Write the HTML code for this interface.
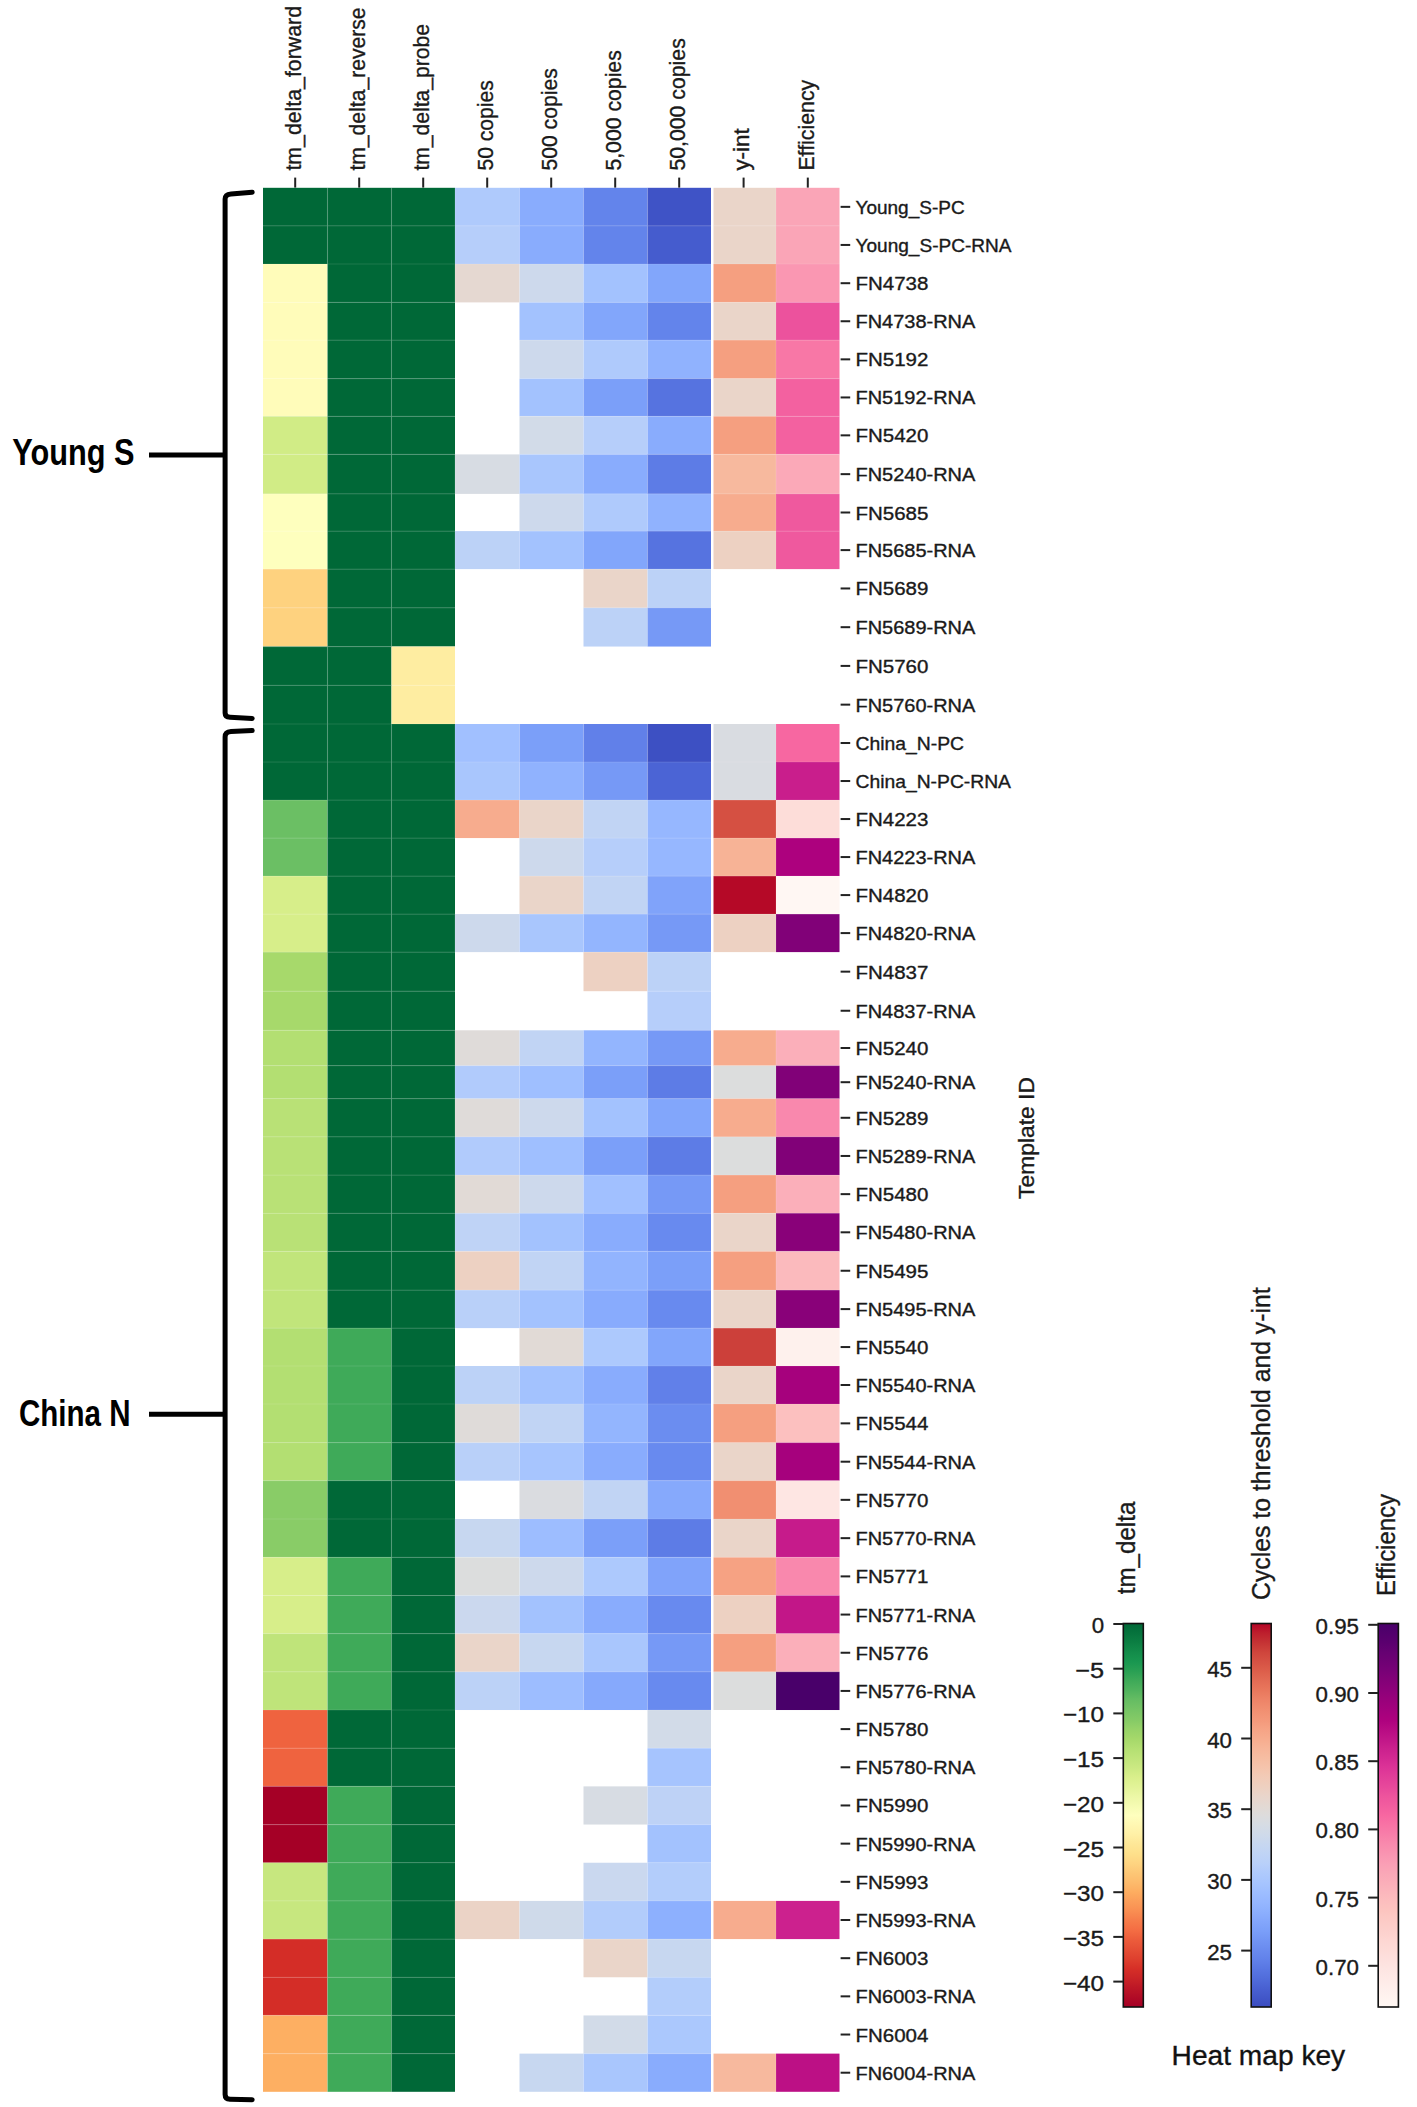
<!DOCTYPE html>
<html><head><meta charset="utf-8"><title>Heat map</title>
<style>html,body{margin:0;padding:0;background:#fff;}body{width:1417px;height:2107px;position:relative;overflow:hidden;font-family:"Liberation Sans",sans-serif;}</style>
</head><body>
<svg width="1417" height="2107" viewBox="0 0 1417 2107" style="position:absolute;left:0;top:0">
<rect x="0" y="0" width="1417" height="2107" fill="#ffffff"/>
<rect x="263.00" y="187.80" width="64.50" height="38.10" fill="#006837"/>
<rect x="327.50" y="187.80" width="64.00" height="38.10" fill="#006837"/>
<rect x="391.50" y="187.80" width="63.50" height="38.10" fill="#006837"/>
<rect x="455.00" y="187.80" width="64.50" height="38.10" fill="#afcafc"/>
<rect x="519.50" y="187.80" width="64.00" height="38.10" fill="#89acfd"/>
<rect x="583.50" y="187.80" width="64.00" height="38.10" fill="#6384eb"/>
<rect x="647.50" y="187.80" width="63.50" height="38.10" fill="#3f53c6"/>
<rect x="713.50" y="187.80" width="62.50" height="38.10" fill="#ead5c9"/>
<rect x="776.00" y="187.80" width="63.50" height="38.10" fill="#faa5b7"/>
<rect x="263.00" y="225.90" width="64.50" height="38.10" fill="#006837"/>
<rect x="327.50" y="225.90" width="64.00" height="38.10" fill="#006837"/>
<rect x="391.50" y="225.90" width="63.50" height="38.10" fill="#006837"/>
<rect x="455.00" y="225.90" width="64.50" height="38.10" fill="#b6cefa"/>
<rect x="519.50" y="225.90" width="64.00" height="38.10" fill="#89acfd"/>
<rect x="583.50" y="225.90" width="64.00" height="38.10" fill="#6384eb"/>
<rect x="647.50" y="225.90" width="63.50" height="38.10" fill="#455cce"/>
<rect x="713.50" y="225.90" width="62.50" height="38.10" fill="#ead5c9"/>
<rect x="776.00" y="225.90" width="63.50" height="38.10" fill="#faa5b7"/>
<rect x="263.00" y="264.00" width="64.50" height="38.40" fill="#fffcba"/>
<rect x="327.50" y="264.00" width="64.00" height="38.40" fill="#006837"/>
<rect x="391.50" y="264.00" width="63.50" height="38.40" fill="#006837"/>
<rect x="455.00" y="264.00" width="64.50" height="38.40" fill="#e5d8d1"/>
<rect x="519.50" y="264.00" width="64.00" height="38.40" fill="#cdd9ec"/>
<rect x="583.50" y="264.00" width="64.00" height="38.40" fill="#a3c2fe"/>
<rect x="647.50" y="264.00" width="63.50" height="38.40" fill="#82a6fb"/>
<rect x="713.50" y="264.00" width="62.50" height="38.40" fill="#f59f80"/>
<rect x="776.00" y="264.00" width="63.50" height="38.40" fill="#fa97b2"/>
<rect x="263.00" y="302.40" width="64.50" height="37.70" fill="#fffcba"/>
<rect x="327.50" y="302.40" width="64.00" height="37.70" fill="#006837"/>
<rect x="391.50" y="302.40" width="63.50" height="37.70" fill="#006837"/>
<rect x="519.50" y="302.40" width="64.00" height="37.70" fill="#a3c2fe"/>
<rect x="583.50" y="302.40" width="64.00" height="37.70" fill="#82a6fb"/>
<rect x="647.50" y="302.40" width="63.50" height="37.70" fill="#6384eb"/>
<rect x="713.50" y="302.40" width="62.50" height="37.70" fill="#ead5c9"/>
<rect x="776.00" y="302.40" width="63.50" height="37.70" fill="#ec529d"/>
<rect x="263.00" y="340.10" width="64.50" height="38.50" fill="#fffcba"/>
<rect x="327.50" y="340.10" width="64.00" height="38.50" fill="#006837"/>
<rect x="391.50" y="340.10" width="63.50" height="38.50" fill="#006837"/>
<rect x="519.50" y="340.10" width="64.00" height="38.50" fill="#cdd9ec"/>
<rect x="583.50" y="340.10" width="64.00" height="38.50" fill="#afcafc"/>
<rect x="647.50" y="340.10" width="63.50" height="38.50" fill="#90b2fe"/>
<rect x="713.50" y="340.10" width="62.50" height="38.50" fill="#f59f80"/>
<rect x="776.00" y="340.10" width="63.50" height="38.50" fill="#f877a6"/>
<rect x="263.00" y="378.60" width="64.50" height="37.70" fill="#fffcba"/>
<rect x="327.50" y="378.60" width="64.00" height="37.70" fill="#006837"/>
<rect x="391.50" y="378.60" width="63.50" height="37.70" fill="#006837"/>
<rect x="519.50" y="378.60" width="64.00" height="37.70" fill="#a3c2fe"/>
<rect x="583.50" y="378.60" width="64.00" height="37.70" fill="#7b9ff9"/>
<rect x="647.50" y="378.60" width="63.50" height="37.70" fill="#5673e0"/>
<rect x="713.50" y="378.60" width="62.50" height="37.70" fill="#ead5c9"/>
<rect x="776.00" y="378.60" width="63.50" height="37.70" fill="#f361a0"/>
<rect x="263.00" y="416.30" width="64.50" height="38.10" fill="#d1ec86"/>
<rect x="327.50" y="416.30" width="64.00" height="38.10" fill="#006837"/>
<rect x="391.50" y="416.30" width="63.50" height="38.10" fill="#006837"/>
<rect x="519.50" y="416.30" width="64.00" height="38.10" fill="#d2dbe8"/>
<rect x="583.50" y="416.30" width="64.00" height="38.10" fill="#b6cefa"/>
<rect x="647.50" y="416.30" width="63.50" height="38.10" fill="#89acfd"/>
<rect x="713.50" y="416.30" width="62.50" height="38.10" fill="#f59f80"/>
<rect x="776.00" y="416.30" width="63.50" height="38.10" fill="#f361a0"/>
<rect x="263.00" y="454.40" width="64.50" height="39.50" fill="#d1ec86"/>
<rect x="327.50" y="454.40" width="64.00" height="39.50" fill="#006837"/>
<rect x="391.50" y="454.40" width="63.50" height="39.50" fill="#006837"/>
<rect x="455.00" y="454.40" width="64.50" height="39.50" fill="#d7dce3"/>
<rect x="519.50" y="454.40" width="64.00" height="39.50" fill="#a9c6fd"/>
<rect x="583.50" y="454.40" width="64.00" height="39.50" fill="#89acfd"/>
<rect x="647.50" y="454.40" width="63.50" height="39.50" fill="#5d7ce6"/>
<rect x="713.50" y="454.40" width="62.50" height="39.50" fill="#f7b99e"/>
<rect x="776.00" y="454.40" width="63.50" height="39.50" fill="#fba9b8"/>
<rect x="263.00" y="493.90" width="64.50" height="37.20" fill="#feffbe"/>
<rect x="327.50" y="493.90" width="64.00" height="37.20" fill="#006837"/>
<rect x="391.50" y="493.90" width="63.50" height="37.20" fill="#006837"/>
<rect x="519.50" y="493.90" width="64.00" height="37.20" fill="#cdd9ec"/>
<rect x="583.50" y="493.90" width="64.00" height="37.20" fill="#afcafc"/>
<rect x="647.50" y="493.90" width="63.50" height="37.20" fill="#90b2fe"/>
<rect x="713.50" y="493.90" width="62.50" height="37.20" fill="#f7ac8e"/>
<rect x="776.00" y="493.90" width="63.50" height="37.20" fill="#ef599e"/>
<rect x="263.00" y="531.10" width="64.50" height="38.00" fill="#feffbe"/>
<rect x="327.50" y="531.10" width="64.00" height="38.00" fill="#006837"/>
<rect x="391.50" y="531.10" width="63.50" height="38.00" fill="#006837"/>
<rect x="455.00" y="531.10" width="64.50" height="38.00" fill="#bcd2f7"/>
<rect x="519.50" y="531.10" width="64.00" height="38.00" fill="#a3c2fe"/>
<rect x="583.50" y="531.10" width="64.00" height="38.00" fill="#82a6fb"/>
<rect x="647.50" y="531.10" width="63.50" height="38.00" fill="#5673e0"/>
<rect x="713.50" y="531.10" width="62.50" height="38.00" fill="#edd1c2"/>
<rect x="776.00" y="531.10" width="63.50" height="38.00" fill="#ef599e"/>
<rect x="263.00" y="569.10" width="64.50" height="38.73" fill="#fed27f"/>
<rect x="327.50" y="569.10" width="64.00" height="38.73" fill="#006837"/>
<rect x="391.50" y="569.10" width="63.50" height="38.73" fill="#006837"/>
<rect x="583.50" y="569.10" width="64.00" height="38.73" fill="#ead5c9"/>
<rect x="647.50" y="569.10" width="63.50" height="38.73" fill="#bcd2f7"/>
<rect x="263.00" y="607.83" width="64.50" height="38.72" fill="#fed27f"/>
<rect x="327.50" y="607.83" width="64.00" height="38.72" fill="#006837"/>
<rect x="391.50" y="607.83" width="63.50" height="38.72" fill="#006837"/>
<rect x="583.50" y="607.83" width="64.00" height="38.72" fill="#bcd2f7"/>
<rect x="647.50" y="607.83" width="63.50" height="38.72" fill="#7699f6"/>
<rect x="263.00" y="646.55" width="64.50" height="38.73" fill="#006837"/>
<rect x="327.50" y="646.55" width="64.00" height="38.73" fill="#006837"/>
<rect x="391.50" y="646.55" width="63.50" height="38.73" fill="#feeda1"/>
<rect x="263.00" y="685.27" width="64.50" height="38.73" fill="#006837"/>
<rect x="327.50" y="685.27" width="64.00" height="38.73" fill="#006837"/>
<rect x="391.50" y="685.27" width="63.50" height="38.73" fill="#feeda1"/>
<rect x="263.00" y="724.00" width="64.50" height="38.02" fill="#006837"/>
<rect x="327.50" y="724.00" width="64.00" height="38.02" fill="#006837"/>
<rect x="391.50" y="724.00" width="63.50" height="38.02" fill="#006837"/>
<rect x="455.00" y="724.00" width="64.50" height="38.02" fill="#a1c0ff"/>
<rect x="519.50" y="724.00" width="64.00" height="38.02" fill="#7b9ff9"/>
<rect x="583.50" y="724.00" width="64.00" height="38.02" fill="#6180e9"/>
<rect x="647.50" y="724.00" width="63.50" height="38.02" fill="#3d50c3"/>
<rect x="713.50" y="724.00" width="62.50" height="38.02" fill="#d9dce1"/>
<rect x="776.00" y="724.00" width="63.50" height="38.02" fill="#f767a1"/>
<rect x="263.00" y="762.02" width="64.50" height="38.02" fill="#006837"/>
<rect x="327.50" y="762.02" width="64.00" height="38.02" fill="#006837"/>
<rect x="391.50" y="762.02" width="63.50" height="38.02" fill="#006837"/>
<rect x="455.00" y="762.02" width="64.50" height="38.02" fill="#a9c6fd"/>
<rect x="519.50" y="762.02" width="64.00" height="38.02" fill="#90b2fe"/>
<rect x="583.50" y="762.02" width="64.00" height="38.02" fill="#7699f6"/>
<rect x="647.50" y="762.02" width="63.50" height="38.02" fill="#4b64d5"/>
<rect x="713.50" y="762.02" width="62.50" height="38.02" fill="#d9dce1"/>
<rect x="776.00" y="762.02" width="63.50" height="38.02" fill="#c91e8c"/>
<rect x="263.00" y="800.03" width="64.50" height="38.02" fill="#6bbf64"/>
<rect x="327.50" y="800.03" width="64.00" height="38.02" fill="#006837"/>
<rect x="391.50" y="800.03" width="63.50" height="38.02" fill="#006837"/>
<rect x="455.00" y="800.03" width="64.50" height="38.02" fill="#f7ac8e"/>
<rect x="519.50" y="800.03" width="64.00" height="38.02" fill="#ead5c9"/>
<rect x="583.50" y="800.03" width="64.00" height="38.02" fill="#c1d4f4"/>
<rect x="647.50" y="800.03" width="63.50" height="38.02" fill="#96b7ff"/>
<rect x="713.50" y="800.03" width="62.50" height="38.02" fill="#d55042"/>
<rect x="776.00" y="800.03" width="63.50" height="38.02" fill="#fdddd9"/>
<rect x="263.00" y="838.05" width="64.50" height="38.02" fill="#6bbf64"/>
<rect x="327.50" y="838.05" width="64.00" height="38.02" fill="#006837"/>
<rect x="391.50" y="838.05" width="63.50" height="38.02" fill="#006837"/>
<rect x="519.50" y="838.05" width="64.00" height="38.02" fill="#cdd9ec"/>
<rect x="583.50" y="838.05" width="64.00" height="38.02" fill="#b6cefa"/>
<rect x="647.50" y="838.05" width="63.50" height="38.02" fill="#96b7ff"/>
<rect x="713.50" y="838.05" width="62.50" height="38.02" fill="#f7b396"/>
<rect x="776.00" y="838.05" width="63.50" height="38.02" fill="#ad017e"/>
<rect x="263.00" y="876.07" width="64.50" height="38.02" fill="#d7ee8a"/>
<rect x="327.50" y="876.07" width="64.00" height="38.02" fill="#006837"/>
<rect x="391.50" y="876.07" width="63.50" height="38.02" fill="#006837"/>
<rect x="519.50" y="876.07" width="64.00" height="38.02" fill="#ead5c9"/>
<rect x="583.50" y="876.07" width="64.00" height="38.02" fill="#c1d4f4"/>
<rect x="647.50" y="876.07" width="63.50" height="38.02" fill="#80a3fa"/>
<rect x="713.50" y="876.07" width="62.50" height="38.02" fill="#b50927"/>
<rect x="776.00" y="876.07" width="63.50" height="38.02" fill="#fff7f3"/>
<rect x="263.00" y="914.08" width="64.50" height="38.02" fill="#d7ee8a"/>
<rect x="327.50" y="914.08" width="64.00" height="38.02" fill="#006837"/>
<rect x="391.50" y="914.08" width="63.50" height="38.02" fill="#006837"/>
<rect x="455.00" y="914.08" width="64.50" height="38.02" fill="#cdd9ec"/>
<rect x="519.50" y="914.08" width="64.00" height="38.02" fill="#a9c6fd"/>
<rect x="583.50" y="914.08" width="64.00" height="38.02" fill="#93b5fe"/>
<rect x="647.50" y="914.08" width="63.50" height="38.02" fill="#7699f6"/>
<rect x="713.50" y="914.08" width="62.50" height="38.02" fill="#edd1c2"/>
<rect x="776.00" y="914.08" width="63.50" height="38.02" fill="#810178"/>
<rect x="263.00" y="952.10" width="64.50" height="39.10" fill="#a7d96b"/>
<rect x="327.50" y="952.10" width="64.00" height="39.10" fill="#006837"/>
<rect x="391.50" y="952.10" width="63.50" height="39.10" fill="#006837"/>
<rect x="583.50" y="952.10" width="64.00" height="39.10" fill="#edd1c2"/>
<rect x="647.50" y="952.10" width="63.50" height="39.10" fill="#bcd2f7"/>
<rect x="263.00" y="991.20" width="64.50" height="39.10" fill="#a7d96b"/>
<rect x="327.50" y="991.20" width="64.00" height="39.10" fill="#006837"/>
<rect x="391.50" y="991.20" width="63.50" height="39.10" fill="#006837"/>
<rect x="647.50" y="991.20" width="63.50" height="39.10" fill="#b6cefa"/>
<rect x="263.00" y="1030.30" width="64.50" height="35.40" fill="#b3df72"/>
<rect x="327.50" y="1030.30" width="64.00" height="35.40" fill="#006837"/>
<rect x="391.50" y="1030.30" width="63.50" height="35.40" fill="#006837"/>
<rect x="455.00" y="1030.30" width="64.50" height="35.40" fill="#dfdbd9"/>
<rect x="519.50" y="1030.30" width="64.00" height="35.40" fill="#c1d4f4"/>
<rect x="583.50" y="1030.30" width="64.00" height="35.40" fill="#93b5fe"/>
<rect x="647.50" y="1030.30" width="63.50" height="35.40" fill="#7699f6"/>
<rect x="713.50" y="1030.30" width="62.50" height="35.40" fill="#f7ac8e"/>
<rect x="776.00" y="1030.30" width="63.50" height="35.40" fill="#fbafba"/>
<rect x="263.00" y="1065.70" width="64.50" height="33.00" fill="#b3df72"/>
<rect x="327.50" y="1065.70" width="64.00" height="33.00" fill="#006837"/>
<rect x="391.50" y="1065.70" width="63.50" height="33.00" fill="#006837"/>
<rect x="455.00" y="1065.70" width="64.50" height="33.00" fill="#b1cbfc"/>
<rect x="519.50" y="1065.70" width="64.00" height="33.00" fill="#9fbfff"/>
<rect x="583.50" y="1065.70" width="64.00" height="33.00" fill="#7b9ff9"/>
<rect x="647.50" y="1065.70" width="63.50" height="33.00" fill="#5d7ce6"/>
<rect x="713.50" y="1065.70" width="62.50" height="33.00" fill="#dcdddd"/>
<rect x="776.00" y="1065.70" width="63.50" height="33.00" fill="#810178"/>
<rect x="263.00" y="1098.70" width="64.50" height="38.17" fill="#b9e176"/>
<rect x="327.50" y="1098.70" width="64.00" height="38.17" fill="#006837"/>
<rect x="391.50" y="1098.70" width="63.50" height="38.17" fill="#006837"/>
<rect x="455.00" y="1098.70" width="64.50" height="38.17" fill="#dfdbd9"/>
<rect x="519.50" y="1098.70" width="64.00" height="38.17" fill="#cdd9ec"/>
<rect x="583.50" y="1098.70" width="64.00" height="38.17" fill="#a3c2fe"/>
<rect x="647.50" y="1098.70" width="63.50" height="38.17" fill="#82a6fb"/>
<rect x="713.50" y="1098.70" width="62.50" height="38.17" fill="#f7ac8e"/>
<rect x="776.00" y="1098.70" width="63.50" height="38.17" fill="#f988ad"/>
<rect x="263.00" y="1136.88" width="64.50" height="38.18" fill="#b9e176"/>
<rect x="327.50" y="1136.88" width="64.00" height="38.18" fill="#006837"/>
<rect x="391.50" y="1136.88" width="63.50" height="38.18" fill="#006837"/>
<rect x="455.00" y="1136.88" width="64.50" height="38.18" fill="#b1cbfc"/>
<rect x="519.50" y="1136.88" width="64.00" height="38.18" fill="#9fbfff"/>
<rect x="583.50" y="1136.88" width="64.00" height="38.18" fill="#7b9ff9"/>
<rect x="647.50" y="1136.88" width="63.50" height="38.18" fill="#5d7ce6"/>
<rect x="713.50" y="1136.88" width="62.50" height="38.18" fill="#dcdddd"/>
<rect x="776.00" y="1136.88" width="63.50" height="38.18" fill="#810178"/>
<rect x="263.00" y="1175.05" width="64.50" height="38.17" fill="#b9e176"/>
<rect x="327.50" y="1175.05" width="64.00" height="38.17" fill="#006837"/>
<rect x="391.50" y="1175.05" width="63.50" height="38.17" fill="#006837"/>
<rect x="455.00" y="1175.05" width="64.50" height="38.17" fill="#e1dad6"/>
<rect x="519.50" y="1175.05" width="64.00" height="38.17" fill="#cdd9ec"/>
<rect x="583.50" y="1175.05" width="64.00" height="38.17" fill="#a1c0ff"/>
<rect x="647.50" y="1175.05" width="63.50" height="38.17" fill="#7699f6"/>
<rect x="713.50" y="1175.05" width="62.50" height="38.17" fill="#f59f80"/>
<rect x="776.00" y="1175.05" width="63.50" height="38.17" fill="#fbafba"/>
<rect x="263.00" y="1213.23" width="64.50" height="38.17" fill="#b9e176"/>
<rect x="327.50" y="1213.23" width="64.00" height="38.17" fill="#006837"/>
<rect x="391.50" y="1213.23" width="63.50" height="38.17" fill="#006837"/>
<rect x="455.00" y="1213.23" width="64.50" height="38.17" fill="#bfd3f6"/>
<rect x="519.50" y="1213.23" width="64.00" height="38.17" fill="#a3c2fe"/>
<rect x="583.50" y="1213.23" width="64.00" height="38.17" fill="#89acfd"/>
<rect x="647.50" y="1213.23" width="63.50" height="38.17" fill="#688aef"/>
<rect x="713.50" y="1213.23" width="62.50" height="38.17" fill="#ead5c9"/>
<rect x="776.00" y="1213.23" width="63.50" height="38.17" fill="#890179"/>
<rect x="263.00" y="1251.40" width="64.50" height="38.70" fill="#c1e57b"/>
<rect x="327.50" y="1251.40" width="64.00" height="38.70" fill="#006837"/>
<rect x="391.50" y="1251.40" width="63.50" height="38.70" fill="#006837"/>
<rect x="455.00" y="1251.40" width="64.50" height="38.70" fill="#edd1c2"/>
<rect x="519.50" y="1251.40" width="64.00" height="38.70" fill="#c1d4f4"/>
<rect x="583.50" y="1251.40" width="64.00" height="38.70" fill="#92b4fe"/>
<rect x="647.50" y="1251.40" width="63.50" height="38.70" fill="#7b9ff9"/>
<rect x="713.50" y="1251.40" width="62.50" height="38.70" fill="#f59f80"/>
<rect x="776.00" y="1251.40" width="63.50" height="38.70" fill="#fbbabd"/>
<rect x="263.00" y="1290.10" width="64.50" height="38.00" fill="#c1e57b"/>
<rect x="327.50" y="1290.10" width="64.00" height="38.00" fill="#006837"/>
<rect x="391.50" y="1290.10" width="63.50" height="38.00" fill="#006837"/>
<rect x="455.00" y="1290.10" width="64.50" height="38.00" fill="#b9d0f9"/>
<rect x="519.50" y="1290.10" width="64.00" height="38.00" fill="#a3c2fe"/>
<rect x="583.50" y="1290.10" width="64.00" height="38.00" fill="#88abfd"/>
<rect x="647.50" y="1290.10" width="63.50" height="38.00" fill="#688aef"/>
<rect x="713.50" y="1290.10" width="62.50" height="38.00" fill="#ead5c9"/>
<rect x="776.00" y="1290.10" width="63.50" height="38.00" fill="#890179"/>
<rect x="263.00" y="1328.10" width="64.50" height="37.90" fill="#b3df72"/>
<rect x="327.50" y="1328.10" width="64.00" height="37.90" fill="#3faa59"/>
<rect x="391.50" y="1328.10" width="63.50" height="37.90" fill="#006837"/>
<rect x="519.50" y="1328.10" width="64.00" height="37.90" fill="#e1dad6"/>
<rect x="583.50" y="1328.10" width="64.00" height="37.90" fill="#adc9fd"/>
<rect x="647.50" y="1328.10" width="63.50" height="37.90" fill="#82a6fb"/>
<rect x="713.50" y="1328.10" width="62.50" height="37.90" fill="#cc403a"/>
<rect x="776.00" y="1328.10" width="63.50" height="37.90" fill="#fef1ed"/>
<rect x="263.00" y="1366.00" width="64.50" height="38.00" fill="#b3df72"/>
<rect x="327.50" y="1366.00" width="64.00" height="38.00" fill="#3faa59"/>
<rect x="391.50" y="1366.00" width="63.50" height="38.00" fill="#006837"/>
<rect x="455.00" y="1366.00" width="64.50" height="38.00" fill="#bcd2f7"/>
<rect x="519.50" y="1366.00" width="64.00" height="38.00" fill="#a3c2fe"/>
<rect x="583.50" y="1366.00" width="64.00" height="38.00" fill="#89acfd"/>
<rect x="647.50" y="1366.00" width="63.50" height="38.00" fill="#6180e9"/>
<rect x="713.50" y="1366.00" width="62.50" height="38.00" fill="#ead5c9"/>
<rect x="776.00" y="1366.00" width="63.50" height="38.00" fill="#a6017d"/>
<rect x="263.00" y="1404.00" width="64.50" height="38.70" fill="#b3df72"/>
<rect x="327.50" y="1404.00" width="64.00" height="38.70" fill="#3faa59"/>
<rect x="391.50" y="1404.00" width="63.50" height="38.70" fill="#006837"/>
<rect x="455.00" y="1404.00" width="64.50" height="38.70" fill="#dfdbd9"/>
<rect x="519.50" y="1404.00" width="64.00" height="38.70" fill="#c1d4f4"/>
<rect x="583.50" y="1404.00" width="64.00" height="38.70" fill="#93b5fe"/>
<rect x="647.50" y="1404.00" width="63.50" height="38.70" fill="#6b8df0"/>
<rect x="713.50" y="1404.00" width="62.50" height="38.70" fill="#f59f80"/>
<rect x="776.00" y="1404.00" width="63.50" height="38.70" fill="#fcc0bf"/>
<rect x="263.00" y="1442.70" width="64.50" height="38.00" fill="#b3df72"/>
<rect x="327.50" y="1442.70" width="64.00" height="38.00" fill="#3faa59"/>
<rect x="391.50" y="1442.70" width="63.50" height="38.00" fill="#006837"/>
<rect x="455.00" y="1442.70" width="64.50" height="38.00" fill="#b9d0f9"/>
<rect x="519.50" y="1442.70" width="64.00" height="38.00" fill="#a7c5fe"/>
<rect x="583.50" y="1442.70" width="64.00" height="38.00" fill="#89acfd"/>
<rect x="647.50" y="1442.70" width="63.50" height="38.00" fill="#688aef"/>
<rect x="713.50" y="1442.70" width="62.50" height="38.00" fill="#ead5c9"/>
<rect x="776.00" y="1442.70" width="63.50" height="38.00" fill="#a6017d"/>
<rect x="263.00" y="1480.70" width="64.50" height="38.30" fill="#89cc67"/>
<rect x="327.50" y="1480.70" width="64.00" height="38.30" fill="#006837"/>
<rect x="391.50" y="1480.70" width="63.50" height="38.30" fill="#006837"/>
<rect x="519.50" y="1480.70" width="64.00" height="38.30" fill="#dadce0"/>
<rect x="583.50" y="1480.70" width="64.00" height="38.30" fill="#c1d4f4"/>
<rect x="647.50" y="1480.70" width="63.50" height="38.30" fill="#86a9fc"/>
<rect x="713.50" y="1480.70" width="62.50" height="38.30" fill="#f18f71"/>
<rect x="776.00" y="1480.70" width="63.50" height="38.30" fill="#fee6e3"/>
<rect x="263.00" y="1519.00" width="64.50" height="38.30" fill="#89cc67"/>
<rect x="327.50" y="1519.00" width="64.00" height="38.30" fill="#006837"/>
<rect x="391.50" y="1519.00" width="63.50" height="38.30" fill="#006837"/>
<rect x="455.00" y="1519.00" width="64.50" height="38.30" fill="#c7d7f0"/>
<rect x="519.50" y="1519.00" width="64.00" height="38.30" fill="#9dbdff"/>
<rect x="583.50" y="1519.00" width="64.00" height="38.30" fill="#7b9ff9"/>
<rect x="647.50" y="1519.00" width="63.50" height="38.30" fill="#5d7ce6"/>
<rect x="713.50" y="1519.00" width="62.50" height="38.30" fill="#ead5c9"/>
<rect x="776.00" y="1519.00" width="63.50" height="38.30" fill="#c61b8b"/>
<rect x="263.00" y="1557.30" width="64.50" height="38.18" fill="#d7ee8a"/>
<rect x="327.50" y="1557.30" width="64.00" height="38.18" fill="#3faa59"/>
<rect x="391.50" y="1557.30" width="63.50" height="38.18" fill="#006837"/>
<rect x="455.00" y="1557.30" width="64.50" height="38.18" fill="#dcdddd"/>
<rect x="519.50" y="1557.30" width="64.00" height="38.18" fill="#cdd9ec"/>
<rect x="583.50" y="1557.30" width="64.00" height="38.18" fill="#adc9fd"/>
<rect x="647.50" y="1557.30" width="63.50" height="38.18" fill="#80a3fa"/>
<rect x="713.50" y="1557.30" width="62.50" height="38.18" fill="#f6a283"/>
<rect x="776.00" y="1557.30" width="63.50" height="38.18" fill="#f988ad"/>
<rect x="263.00" y="1595.48" width="64.50" height="38.18" fill="#d7ee8a"/>
<rect x="327.50" y="1595.48" width="64.00" height="38.18" fill="#3faa59"/>
<rect x="391.50" y="1595.48" width="63.50" height="38.18" fill="#006837"/>
<rect x="455.00" y="1595.48" width="64.50" height="38.18" fill="#cbd8ee"/>
<rect x="519.50" y="1595.48" width="64.00" height="38.18" fill="#a3c2fe"/>
<rect x="583.50" y="1595.48" width="64.00" height="38.18" fill="#89acfd"/>
<rect x="647.50" y="1595.48" width="63.50" height="38.18" fill="#688aef"/>
<rect x="713.50" y="1595.48" width="62.50" height="38.18" fill="#edd1c2"/>
<rect x="776.00" y="1595.48" width="63.50" height="38.18" fill="#c21688"/>
<rect x="263.00" y="1633.66" width="64.50" height="38.18" fill="#bfe47a"/>
<rect x="327.50" y="1633.66" width="64.00" height="38.18" fill="#3faa59"/>
<rect x="391.50" y="1633.66" width="63.50" height="38.18" fill="#006837"/>
<rect x="455.00" y="1633.66" width="64.50" height="38.18" fill="#ead5c9"/>
<rect x="519.50" y="1633.66" width="64.00" height="38.18" fill="#c7d7f0"/>
<rect x="583.50" y="1633.66" width="64.00" height="38.18" fill="#a9c6fd"/>
<rect x="647.50" y="1633.66" width="63.50" height="38.18" fill="#7699f6"/>
<rect x="713.50" y="1633.66" width="62.50" height="38.18" fill="#f59f80"/>
<rect x="776.00" y="1633.66" width="63.50" height="38.18" fill="#fbafba"/>
<rect x="263.00" y="1671.84" width="64.50" height="38.18" fill="#bfe47a"/>
<rect x="327.50" y="1671.84" width="64.00" height="38.18" fill="#3faa59"/>
<rect x="391.50" y="1671.84" width="63.50" height="38.18" fill="#006837"/>
<rect x="455.00" y="1671.84" width="64.50" height="38.18" fill="#bcd2f7"/>
<rect x="519.50" y="1671.84" width="64.00" height="38.18" fill="#9dbdff"/>
<rect x="583.50" y="1671.84" width="64.00" height="38.18" fill="#86a9fc"/>
<rect x="647.50" y="1671.84" width="63.50" height="38.18" fill="#688aef"/>
<rect x="713.50" y="1671.84" width="62.50" height="38.18" fill="#dcdddd"/>
<rect x="776.00" y="1671.84" width="63.50" height="38.18" fill="#49006a"/>
<rect x="263.00" y="1710.01" width="64.50" height="38.18" fill="#ef633f"/>
<rect x="327.50" y="1710.01" width="64.00" height="38.18" fill="#006837"/>
<rect x="391.50" y="1710.01" width="63.50" height="38.18" fill="#006837"/>
<rect x="647.50" y="1710.01" width="63.50" height="38.18" fill="#d2dbe8"/>
<rect x="263.00" y="1748.19" width="64.50" height="38.18" fill="#ef633f"/>
<rect x="327.50" y="1748.19" width="64.00" height="38.18" fill="#006837"/>
<rect x="391.50" y="1748.19" width="63.50" height="38.18" fill="#006837"/>
<rect x="647.50" y="1748.19" width="63.50" height="38.18" fill="#a6c4fe"/>
<rect x="263.00" y="1786.37" width="64.50" height="38.18" fill="#a50026"/>
<rect x="327.50" y="1786.37" width="64.00" height="38.18" fill="#3faa59"/>
<rect x="391.50" y="1786.37" width="63.50" height="38.18" fill="#006837"/>
<rect x="583.50" y="1786.37" width="64.00" height="38.18" fill="#d7dce3"/>
<rect x="647.50" y="1786.37" width="63.50" height="38.18" fill="#bed2f6"/>
<rect x="263.00" y="1824.55" width="64.50" height="38.18" fill="#a50026"/>
<rect x="327.50" y="1824.55" width="64.00" height="38.18" fill="#3faa59"/>
<rect x="391.50" y="1824.55" width="63.50" height="38.18" fill="#006837"/>
<rect x="647.50" y="1824.55" width="63.50" height="38.18" fill="#a3c2fe"/>
<rect x="263.00" y="1862.73" width="64.50" height="38.18" fill="#c7e77f"/>
<rect x="327.50" y="1862.73" width="64.00" height="38.18" fill="#3faa59"/>
<rect x="391.50" y="1862.73" width="63.50" height="38.18" fill="#006837"/>
<rect x="583.50" y="1862.73" width="64.00" height="38.18" fill="#cad8ef"/>
<rect x="647.50" y="1862.73" width="63.50" height="38.18" fill="#b3cdfb"/>
<rect x="263.00" y="1900.91" width="64.50" height="38.18" fill="#c7e77f"/>
<rect x="327.50" y="1900.91" width="64.00" height="38.18" fill="#3faa59"/>
<rect x="391.50" y="1900.91" width="63.50" height="38.18" fill="#006837"/>
<rect x="455.00" y="1900.91" width="64.50" height="38.18" fill="#ebd3c6"/>
<rect x="519.50" y="1900.91" width="64.00" height="38.18" fill="#cfdaea"/>
<rect x="583.50" y="1900.91" width="64.00" height="38.18" fill="#b2ccfb"/>
<rect x="647.50" y="1900.91" width="63.50" height="38.18" fill="#8db0fe"/>
<rect x="713.50" y="1900.91" width="62.50" height="38.18" fill="#f7ac8e"/>
<rect x="776.00" y="1900.91" width="63.50" height="38.18" fill="#cc218e"/>
<rect x="263.00" y="1939.09" width="64.50" height="38.18" fill="#d42d27"/>
<rect x="327.50" y="1939.09" width="64.00" height="38.18" fill="#3faa59"/>
<rect x="391.50" y="1939.09" width="63.50" height="38.18" fill="#006837"/>
<rect x="583.50" y="1939.09" width="64.00" height="38.18" fill="#ead5c9"/>
<rect x="647.50" y="1939.09" width="63.50" height="38.18" fill="#c7d7f0"/>
<rect x="263.00" y="1977.26" width="64.50" height="38.18" fill="#d42d27"/>
<rect x="327.50" y="1977.26" width="64.00" height="38.18" fill="#3faa59"/>
<rect x="391.50" y="1977.26" width="63.50" height="38.18" fill="#006837"/>
<rect x="647.50" y="1977.26" width="63.50" height="38.18" fill="#b3cdfb"/>
<rect x="263.00" y="2015.44" width="64.50" height="38.18" fill="#fdaf62"/>
<rect x="327.50" y="2015.44" width="64.00" height="38.18" fill="#3faa59"/>
<rect x="391.50" y="2015.44" width="63.50" height="38.18" fill="#006837"/>
<rect x="583.50" y="2015.44" width="64.00" height="38.18" fill="#d2dbe8"/>
<rect x="647.50" y="2015.44" width="63.50" height="38.18" fill="#abc8fd"/>
<rect x="263.00" y="2053.62" width="64.50" height="38.18" fill="#fdaf62"/>
<rect x="327.50" y="2053.62" width="64.00" height="38.18" fill="#3faa59"/>
<rect x="391.50" y="2053.62" width="63.50" height="38.18" fill="#006837"/>
<rect x="519.50" y="2053.62" width="64.00" height="38.18" fill="#c7d7f0"/>
<rect x="583.50" y="2053.62" width="64.00" height="38.18" fill="#a9c6fd"/>
<rect x="647.50" y="2053.62" width="63.50" height="38.18" fill="#89acfd"/>
<rect x="713.50" y="2053.62" width="62.50" height="38.18" fill="#f7b99e"/>
<rect x="776.00" y="2053.62" width="63.50" height="38.18" fill="#bc1085"/>
<path d="M327.50 187.8V225.9 M391.50 187.8V225.9 M455.00 187.8V225.9 M519.50 187.8V225.9 M583.50 187.8V225.9 M647.50 187.8V225.9 M776.00 187.8V225.9 M263.0 225.90H327.5 M327.5 225.90H391.5 M327.50 225.9V264.0 M391.5 225.90H455.0 M391.50 225.9V264.0 M455.0 225.90H519.5 M455.00 225.9V264.0 M519.5 225.90H583.5 M519.50 225.9V264.0 M583.5 225.90H647.5 M583.50 225.9V264.0 M647.5 225.90H711.0 M647.50 225.9V264.0 M713.5 225.90H776.0 M776.0 225.90H839.5 M776.00 225.9V264.0 M263.0 264.00H327.5 M327.5 264.00H391.5 M327.50 264.0V302.4 M391.5 264.00H455.0 M391.50 264.0V302.4 M455.0 264.00H519.5 M455.00 264.0V302.4 M519.5 264.00H583.5 M519.50 264.0V302.4 M583.5 264.00H647.5 M583.50 264.0V302.4 M647.5 264.00H711.0 M647.50 264.0V302.4 M713.5 264.00H776.0 M776.0 264.00H839.5 M776.00 264.0V302.4 M263.0 302.40H327.5 M327.5 302.40H391.5 M327.50 302.4V340.1 M391.5 302.40H455.0 M391.50 302.4V340.1 M519.5 302.40H583.5 M583.5 302.40H647.5 M583.50 302.4V340.1 M647.5 302.40H711.0 M647.50 302.4V340.1 M713.5 302.40H776.0 M776.0 302.40H839.5 M776.00 302.4V340.1 M263.0 340.10H327.5 M327.5 340.10H391.5 M327.50 340.1V378.6 M391.5 340.10H455.0 M391.50 340.1V378.6 M519.5 340.10H583.5 M583.5 340.10H647.5 M583.50 340.1V378.6 M647.5 340.10H711.0 M647.50 340.1V378.6 M713.5 340.10H776.0 M776.0 340.10H839.5 M776.00 340.1V378.6 M263.0 378.60H327.5 M327.5 378.60H391.5 M327.50 378.6V416.3 M391.5 378.60H455.0 M391.50 378.6V416.3 M519.5 378.60H583.5 M583.5 378.60H647.5 M583.50 378.6V416.3 M647.5 378.60H711.0 M647.50 378.6V416.3 M713.5 378.60H776.0 M776.0 378.60H839.5 M776.00 378.6V416.3 M263.0 416.30H327.5 M327.5 416.30H391.5 M327.50 416.3V454.4 M391.5 416.30H455.0 M391.50 416.3V454.4 M519.5 416.30H583.5 M583.5 416.30H647.5 M583.50 416.3V454.4 M647.5 416.30H711.0 M647.50 416.3V454.4 M713.5 416.30H776.0 M776.0 416.30H839.5 M776.00 416.3V454.4 M263.0 454.40H327.5 M327.5 454.40H391.5 M327.50 454.4V493.9 M391.5 454.40H455.0 M391.50 454.4V493.9 M455.00 454.4V493.9 M519.5 454.40H583.5 M519.50 454.4V493.9 M583.5 454.40H647.5 M583.50 454.4V493.9 M647.5 454.40H711.0 M647.50 454.4V493.9 M713.5 454.40H776.0 M776.0 454.40H839.5 M776.00 454.4V493.9 M263.0 493.90H327.5 M327.5 493.90H391.5 M327.50 493.9V531.1 M391.5 493.90H455.0 M391.50 493.9V531.1 M519.5 493.90H583.5 M583.5 493.90H647.5 M583.50 493.9V531.1 M647.5 493.90H711.0 M647.50 493.9V531.1 M713.5 493.90H776.0 M776.0 493.90H839.5 M776.00 493.9V531.1 M263.0 531.10H327.5 M327.5 531.10H391.5 M327.50 531.1V569.1 M391.5 531.10H455.0 M391.50 531.1V569.1 M455.00 531.1V569.1 M519.5 531.10H583.5 M519.50 531.1V569.1 M583.5 531.10H647.5 M583.50 531.1V569.1 M647.5 531.10H711.0 M647.50 531.1V569.1 M713.5 531.10H776.0 M776.0 531.10H839.5 M776.00 531.1V569.1 M263.0 569.10H327.5 M327.5 569.10H391.5 M327.50 569.1V607.8 M391.5 569.10H455.0 M391.50 569.1V607.8 M583.5 569.10H647.5 M647.5 569.10H711.0 M647.50 569.1V607.8 M263.0 607.83H327.5 M327.5 607.83H391.5 M327.50 607.8V646.5 M391.5 607.83H455.0 M391.50 607.8V646.5 M583.5 607.83H647.5 M647.5 607.83H711.0 M647.50 607.8V646.5 M263.0 646.55H327.5 M327.5 646.55H391.5 M327.50 646.5V685.3 M391.5 646.55H455.0 M391.50 646.5V685.3 M263.0 685.27H327.5 M327.5 685.27H391.5 M327.50 685.3V724.0 M391.5 685.27H455.0 M391.50 685.3V724.0 M263.0 724.00H327.5 M327.5 724.00H391.5 M327.50 724.0V762.0 M391.5 724.00H455.0 M391.50 724.0V762.0 M455.00 724.0V762.0 M519.50 724.0V762.0 M583.50 724.0V762.0 M647.50 724.0V762.0 M776.00 724.0V762.0 M263.0 762.02H327.5 M327.5 762.02H391.5 M327.50 762.0V800.0 M391.5 762.02H455.0 M391.50 762.0V800.0 M455.0 762.02H519.5 M455.00 762.0V800.0 M519.5 762.02H583.5 M519.50 762.0V800.0 M583.5 762.02H647.5 M583.50 762.0V800.0 M647.5 762.02H711.0 M647.50 762.0V800.0 M713.5 762.02H776.0 M776.0 762.02H839.5 M776.00 762.0V800.0 M263.0 800.03H327.5 M327.5 800.03H391.5 M327.50 800.0V838.0 M391.5 800.03H455.0 M391.50 800.0V838.0 M455.0 800.03H519.5 M455.00 800.0V838.0 M519.5 800.03H583.5 M519.50 800.0V838.0 M583.5 800.03H647.5 M583.50 800.0V838.0 M647.5 800.03H711.0 M647.50 800.0V838.0 M713.5 800.03H776.0 M776.0 800.03H839.5 M776.00 800.0V838.0 M263.0 838.05H327.5 M327.5 838.05H391.5 M327.50 838.0V876.1 M391.5 838.05H455.0 M391.50 838.0V876.1 M519.5 838.05H583.5 M583.5 838.05H647.5 M583.50 838.0V876.1 M647.5 838.05H711.0 M647.50 838.0V876.1 M713.5 838.05H776.0 M776.0 838.05H839.5 M776.00 838.0V876.1 M263.0 876.07H327.5 M327.5 876.07H391.5 M327.50 876.1V914.1 M391.5 876.07H455.0 M391.50 876.1V914.1 M519.5 876.07H583.5 M583.5 876.07H647.5 M583.50 876.1V914.1 M647.5 876.07H711.0 M647.50 876.1V914.1 M713.5 876.07H776.0 M776.0 876.07H839.5 M776.00 876.1V914.1 M263.0 914.08H327.5 M327.5 914.08H391.5 M327.50 914.1V952.1 M391.5 914.08H455.0 M391.50 914.1V952.1 M455.00 914.1V952.1 M519.5 914.08H583.5 M519.50 914.1V952.1 M583.5 914.08H647.5 M583.50 914.1V952.1 M647.5 914.08H711.0 M647.50 914.1V952.1 M713.5 914.08H776.0 M776.0 914.08H839.5 M776.00 914.1V952.1 M263.0 952.10H327.5 M327.5 952.10H391.5 M327.50 952.1V991.2 M391.5 952.10H455.0 M391.50 952.1V991.2 M583.5 952.10H647.5 M647.5 952.10H711.0 M647.50 952.1V991.2 M263.0 991.20H327.5 M327.5 991.20H391.5 M327.50 991.2V1030.3 M391.5 991.20H455.0 M391.50 991.2V1030.3 M647.5 991.20H711.0 M263.0 1030.30H327.5 M327.5 1030.30H391.5 M327.50 1030.3V1065.7 M391.5 1030.30H455.0 M391.50 1030.3V1065.7 M455.00 1030.3V1065.7 M519.50 1030.3V1065.7 M583.50 1030.3V1065.7 M647.5 1030.30H711.0 M647.50 1030.3V1065.7 M776.00 1030.3V1065.7 M263.0 1065.70H327.5 M327.5 1065.70H391.5 M327.50 1065.7V1098.7 M391.5 1065.70H455.0 M391.50 1065.7V1098.7 M455.0 1065.70H519.5 M455.00 1065.7V1098.7 M519.5 1065.70H583.5 M519.50 1065.7V1098.7 M583.5 1065.70H647.5 M583.50 1065.7V1098.7 M647.5 1065.70H711.0 M647.50 1065.7V1098.7 M713.5 1065.70H776.0 M776.0 1065.70H839.5 M776.00 1065.7V1098.7 M263.0 1098.70H327.5 M327.5 1098.70H391.5 M327.50 1098.7V1136.9 M391.5 1098.70H455.0 M391.50 1098.7V1136.9 M455.0 1098.70H519.5 M455.00 1098.7V1136.9 M519.5 1098.70H583.5 M519.50 1098.7V1136.9 M583.5 1098.70H647.5 M583.50 1098.7V1136.9 M647.5 1098.70H711.0 M647.50 1098.7V1136.9 M713.5 1098.70H776.0 M776.0 1098.70H839.5 M776.00 1098.7V1136.9 M263.0 1136.88H327.5 M327.5 1136.88H391.5 M327.50 1136.9V1175.1 M391.5 1136.88H455.0 M391.50 1136.9V1175.1 M455.0 1136.88H519.5 M455.00 1136.9V1175.1 M519.5 1136.88H583.5 M519.50 1136.9V1175.1 M583.5 1136.88H647.5 M583.50 1136.9V1175.1 M647.5 1136.88H711.0 M647.50 1136.9V1175.1 M713.5 1136.88H776.0 M776.0 1136.88H839.5 M776.00 1136.9V1175.1 M263.0 1175.05H327.5 M327.5 1175.05H391.5 M327.50 1175.1V1213.2 M391.5 1175.05H455.0 M391.50 1175.1V1213.2 M455.0 1175.05H519.5 M455.00 1175.1V1213.2 M519.5 1175.05H583.5 M519.50 1175.1V1213.2 M583.5 1175.05H647.5 M583.50 1175.1V1213.2 M647.5 1175.05H711.0 M647.50 1175.1V1213.2 M713.5 1175.05H776.0 M776.0 1175.05H839.5 M776.00 1175.1V1213.2 M263.0 1213.23H327.5 M327.5 1213.23H391.5 M327.50 1213.2V1251.4 M391.5 1213.23H455.0 M391.50 1213.2V1251.4 M455.0 1213.23H519.5 M455.00 1213.2V1251.4 M519.5 1213.23H583.5 M519.50 1213.2V1251.4 M583.5 1213.23H647.5 M583.50 1213.2V1251.4 M647.5 1213.23H711.0 M647.50 1213.2V1251.4 M713.5 1213.23H776.0 M776.0 1213.23H839.5 M776.00 1213.2V1251.4 M263.0 1251.40H327.5 M327.5 1251.40H391.5 M327.50 1251.4V1290.1 M391.5 1251.40H455.0 M391.50 1251.4V1290.1 M455.0 1251.40H519.5 M455.00 1251.4V1290.1 M519.5 1251.40H583.5 M519.50 1251.4V1290.1 M583.5 1251.40H647.5 M583.50 1251.4V1290.1 M647.5 1251.40H711.0 M647.50 1251.4V1290.1 M713.5 1251.40H776.0 M776.0 1251.40H839.5 M776.00 1251.4V1290.1 M263.0 1290.10H327.5 M327.5 1290.10H391.5 M327.50 1290.1V1328.1 M391.5 1290.10H455.0 M391.50 1290.1V1328.1 M455.0 1290.10H519.5 M455.00 1290.1V1328.1 M519.5 1290.10H583.5 M519.50 1290.1V1328.1 M583.5 1290.10H647.5 M583.50 1290.1V1328.1 M647.5 1290.10H711.0 M647.50 1290.1V1328.1 M713.5 1290.10H776.0 M776.0 1290.10H839.5 M776.00 1290.1V1328.1 M263.0 1328.10H327.5 M327.5 1328.10H391.5 M327.50 1328.1V1366.0 M391.5 1328.10H455.0 M391.50 1328.1V1366.0 M519.5 1328.10H583.5 M583.5 1328.10H647.5 M583.50 1328.1V1366.0 M647.5 1328.10H711.0 M647.50 1328.1V1366.0 M713.5 1328.10H776.0 M776.0 1328.10H839.5 M776.00 1328.1V1366.0 M263.0 1366.00H327.5 M327.5 1366.00H391.5 M327.50 1366.0V1404.0 M391.5 1366.00H455.0 M391.50 1366.0V1404.0 M455.00 1366.0V1404.0 M519.5 1366.00H583.5 M519.50 1366.0V1404.0 M583.5 1366.00H647.5 M583.50 1366.0V1404.0 M647.5 1366.00H711.0 M647.50 1366.0V1404.0 M713.5 1366.00H776.0 M776.0 1366.00H839.5 M776.00 1366.0V1404.0 M263.0 1404.00H327.5 M327.5 1404.00H391.5 M327.50 1404.0V1442.7 M391.5 1404.00H455.0 M391.50 1404.0V1442.7 M455.0 1404.00H519.5 M455.00 1404.0V1442.7 M519.5 1404.00H583.5 M519.50 1404.0V1442.7 M583.5 1404.00H647.5 M583.50 1404.0V1442.7 M647.5 1404.00H711.0 M647.50 1404.0V1442.7 M713.5 1404.00H776.0 M776.0 1404.00H839.5 M776.00 1404.0V1442.7 M263.0 1442.70H327.5 M327.5 1442.70H391.5 M327.50 1442.7V1480.7 M391.5 1442.70H455.0 M391.50 1442.7V1480.7 M455.0 1442.70H519.5 M455.00 1442.7V1480.7 M519.5 1442.70H583.5 M519.50 1442.7V1480.7 M583.5 1442.70H647.5 M583.50 1442.7V1480.7 M647.5 1442.70H711.0 M647.50 1442.7V1480.7 M713.5 1442.70H776.0 M776.0 1442.70H839.5 M776.00 1442.7V1480.7 M263.0 1480.70H327.5 M327.5 1480.70H391.5 M327.50 1480.7V1519.0 M391.5 1480.70H455.0 M391.50 1480.7V1519.0 M519.5 1480.70H583.5 M583.5 1480.70H647.5 M583.50 1480.7V1519.0 M647.5 1480.70H711.0 M647.50 1480.7V1519.0 M713.5 1480.70H776.0 M776.0 1480.70H839.5 M776.00 1480.7V1519.0 M263.0 1519.00H327.5 M327.5 1519.00H391.5 M327.50 1519.0V1557.3 M391.5 1519.00H455.0 M391.50 1519.0V1557.3 M455.00 1519.0V1557.3 M519.5 1519.00H583.5 M519.50 1519.0V1557.3 M583.5 1519.00H647.5 M583.50 1519.0V1557.3 M647.5 1519.00H711.0 M647.50 1519.0V1557.3 M713.5 1519.00H776.0 M776.0 1519.00H839.5 M776.00 1519.0V1557.3 M263.0 1557.30H327.5 M327.5 1557.30H391.5 M327.50 1557.3V1595.5 M391.5 1557.30H455.0 M391.50 1557.3V1595.5 M455.0 1557.30H519.5 M455.00 1557.3V1595.5 M519.5 1557.30H583.5 M519.50 1557.3V1595.5 M583.5 1557.30H647.5 M583.50 1557.3V1595.5 M647.5 1557.30H711.0 M647.50 1557.3V1595.5 M713.5 1557.30H776.0 M776.0 1557.30H839.5 M776.00 1557.3V1595.5 M263.0 1595.48H327.5 M327.5 1595.48H391.5 M327.50 1595.5V1633.7 M391.5 1595.48H455.0 M391.50 1595.5V1633.7 M455.0 1595.48H519.5 M455.00 1595.5V1633.7 M519.5 1595.48H583.5 M519.50 1595.5V1633.7 M583.5 1595.48H647.5 M583.50 1595.5V1633.7 M647.5 1595.48H711.0 M647.50 1595.5V1633.7 M713.5 1595.48H776.0 M776.0 1595.48H839.5 M776.00 1595.5V1633.7 M263.0 1633.66H327.5 M327.5 1633.66H391.5 M327.50 1633.7V1671.8 M391.5 1633.66H455.0 M391.50 1633.7V1671.8 M455.0 1633.66H519.5 M455.00 1633.7V1671.8 M519.5 1633.66H583.5 M519.50 1633.7V1671.8 M583.5 1633.66H647.5 M583.50 1633.7V1671.8 M647.5 1633.66H711.0 M647.50 1633.7V1671.8 M713.5 1633.66H776.0 M776.0 1633.66H839.5 M776.00 1633.7V1671.8 M263.0 1671.84H327.5 M327.5 1671.84H391.5 M327.50 1671.8V1710.0 M391.5 1671.84H455.0 M391.50 1671.8V1710.0 M455.0 1671.84H519.5 M455.00 1671.8V1710.0 M519.5 1671.84H583.5 M519.50 1671.8V1710.0 M583.5 1671.84H647.5 M583.50 1671.8V1710.0 M647.5 1671.84H711.0 M647.50 1671.8V1710.0 M713.5 1671.84H776.0 M776.0 1671.84H839.5 M776.00 1671.8V1710.0 M263.0 1710.01H327.5 M327.5 1710.01H391.5 M327.50 1710.0V1748.2 M391.5 1710.01H455.0 M391.50 1710.0V1748.2 M647.5 1710.01H711.0 M263.0 1748.19H327.5 M327.5 1748.19H391.5 M327.50 1748.2V1786.4 M391.5 1748.19H455.0 M391.50 1748.2V1786.4 M647.5 1748.19H711.0 M263.0 1786.37H327.5 M327.5 1786.37H391.5 M327.50 1786.4V1824.6 M391.5 1786.37H455.0 M391.50 1786.4V1824.6 M647.5 1786.37H711.0 M647.50 1786.4V1824.6 M263.0 1824.55H327.5 M327.5 1824.55H391.5 M327.50 1824.6V1862.7 M391.5 1824.55H455.0 M391.50 1824.6V1862.7 M647.5 1824.55H711.0 M263.0 1862.73H327.5 M327.5 1862.73H391.5 M327.50 1862.7V1900.9 M391.5 1862.73H455.0 M391.50 1862.7V1900.9 M647.5 1862.73H711.0 M647.50 1862.7V1900.9 M263.0 1900.91H327.5 M327.5 1900.91H391.5 M327.50 1900.9V1939.1 M391.5 1900.91H455.0 M391.50 1900.9V1939.1 M455.00 1900.9V1939.1 M519.50 1900.9V1939.1 M583.5 1900.91H647.5 M583.50 1900.9V1939.1 M647.5 1900.91H711.0 M647.50 1900.9V1939.1 M776.00 1900.9V1939.1 M263.0 1939.09H327.5 M327.5 1939.09H391.5 M327.50 1939.1V1977.3 M391.5 1939.09H455.0 M391.50 1939.1V1977.3 M583.5 1939.09H647.5 M647.5 1939.09H711.0 M647.50 1939.1V1977.3 M263.0 1977.26H327.5 M327.5 1977.26H391.5 M327.50 1977.3V2015.4 M391.5 1977.26H455.0 M391.50 1977.3V2015.4 M647.5 1977.26H711.0 M263.0 2015.44H327.5 M327.5 2015.44H391.5 M327.50 2015.4V2053.6 M391.5 2015.44H455.0 M391.50 2015.4V2053.6 M647.5 2015.44H711.0 M647.50 2015.4V2053.6 M263.0 2053.62H327.5 M327.5 2053.62H391.5 M327.50 2053.6V2091.8 M391.5 2053.62H455.0 M391.50 2053.6V2091.8 M583.5 2053.62H647.5 M583.50 2053.6V2091.8 M647.5 2053.62H711.0 M647.50 2053.6V2091.8 M776.00 2053.6V2091.8" stroke="rgba(255,255,255,0.11)" stroke-width="1.2" fill="none"/>
<rect x="294.2" y="177.6" width="2" height="10" fill="#222"/>
<text font-family="Liberation Sans, sans-serif" stroke="#1a1a1a" stroke-width="0.35" font-size="21.5" fill="#1a1a1a" transform="translate(301.0,170.6) rotate(-90)" x="0" y="0" text-anchor="start" textLength="164.6" lengthAdjust="spacingAndGlyphs">tm_delta_forward</text>
<rect x="358.2" y="177.6" width="2" height="10" fill="#222"/>
<text font-family="Liberation Sans, sans-serif" stroke="#1a1a1a" stroke-width="0.35" font-size="21.5" fill="#1a1a1a" transform="translate(365.0,170.6) rotate(-90)" x="0" y="0" text-anchor="start" textLength="163.2" lengthAdjust="spacingAndGlyphs">tm_delta_reverse</text>
<rect x="422.2" y="177.6" width="2" height="10" fill="#222"/>
<text font-family="Liberation Sans, sans-serif" stroke="#1a1a1a" stroke-width="0.35" font-size="21.5" fill="#1a1a1a" transform="translate(429.0,170.6) rotate(-90)" x="0" y="0" text-anchor="start" textLength="146.7" lengthAdjust="spacingAndGlyphs">tm_delta_probe</text>
<rect x="486.2" y="177.6" width="2" height="10" fill="#222"/>
<text font-family="Liberation Sans, sans-serif" stroke="#1a1a1a" stroke-width="0.35" font-size="21.5" fill="#1a1a1a" transform="translate(493.0,170.6) rotate(-90)" x="0" y="0" text-anchor="start" textLength="90.5" lengthAdjust="spacingAndGlyphs">50 copies</text>
<rect x="550.2" y="177.6" width="2" height="10" fill="#222"/>
<text font-family="Liberation Sans, sans-serif" stroke="#1a1a1a" stroke-width="0.35" font-size="21.5" fill="#1a1a1a" transform="translate(557.0,170.6) rotate(-90)" x="0" y="0" text-anchor="start" textLength="102.4" lengthAdjust="spacingAndGlyphs">500 copies</text>
<rect x="614.2" y="177.6" width="2" height="10" fill="#222"/>
<text font-family="Liberation Sans, sans-serif" stroke="#1a1a1a" stroke-width="0.35" font-size="21.5" fill="#1a1a1a" transform="translate(621.0,170.6) rotate(-90)" x="0" y="0" text-anchor="start" textLength="120.4" lengthAdjust="spacingAndGlyphs">5,000 copies</text>
<rect x="678.2" y="177.6" width="2" height="10" fill="#222"/>
<text font-family="Liberation Sans, sans-serif" stroke="#1a1a1a" stroke-width="0.35" font-size="21.5" fill="#1a1a1a" transform="translate(685.0,170.6) rotate(-90)" x="0" y="0" text-anchor="start" textLength="132.4" lengthAdjust="spacingAndGlyphs">50,000 copies</text>
<rect x="742.6" y="177.6" width="2" height="10" fill="#222"/>
<text font-family="Liberation Sans, sans-serif" stroke="#1a1a1a" stroke-width="0.35" font-size="21.5" fill="#1a1a1a" transform="translate(749.4,170.6) rotate(-90)" x="0" y="0" text-anchor="start" textLength="42.2" lengthAdjust="spacingAndGlyphs">y-int</text>
<rect x="806.8" y="177.6" width="2" height="10" fill="#222"/>
<text font-family="Liberation Sans, sans-serif" stroke="#1a1a1a" stroke-width="0.35" font-size="21.5" fill="#1a1a1a" transform="translate(813.6,170.6) rotate(-90)" x="0" y="0" text-anchor="start" textLength="90.8" lengthAdjust="spacingAndGlyphs">Efficiency</text>
<rect x="840.6" y="205.85" width="9.6" height="2" fill="#222"/>
<text font-family="Liberation Sans, sans-serif" stroke="#1a1a1a" stroke-width="0.35" font-size="18.3" fill="#1a1a1a" x="855.5" y="213.85" textLength="109.1" lengthAdjust="spacingAndGlyphs">Young_S-PC</text>
<rect x="840.6" y="243.95" width="9.6" height="2" fill="#222"/>
<text font-family="Liberation Sans, sans-serif" stroke="#1a1a1a" stroke-width="0.35" font-size="18.3" fill="#1a1a1a" x="855.5" y="251.95" textLength="156.0" lengthAdjust="spacingAndGlyphs">Young_S-PC-RNA</text>
<rect x="840.6" y="282.20" width="9.6" height="2" fill="#222"/>
<text font-family="Liberation Sans, sans-serif" stroke="#1a1a1a" stroke-width="0.35" font-size="18.3" fill="#1a1a1a" x="855.5" y="290.20" textLength="72.9" lengthAdjust="spacingAndGlyphs">FN4738</text>
<rect x="840.6" y="320.25" width="9.6" height="2" fill="#222"/>
<text font-family="Liberation Sans, sans-serif" stroke="#1a1a1a" stroke-width="0.35" font-size="18.3" fill="#1a1a1a" x="855.5" y="328.25" textLength="119.8" lengthAdjust="spacingAndGlyphs">FN4738-RNA</text>
<rect x="840.6" y="358.35" width="9.6" height="2" fill="#222"/>
<text font-family="Liberation Sans, sans-serif" stroke="#1a1a1a" stroke-width="0.35" font-size="18.3" fill="#1a1a1a" x="855.5" y="366.35" textLength="72.9" lengthAdjust="spacingAndGlyphs">FN5192</text>
<rect x="840.6" y="396.45" width="9.6" height="2" fill="#222"/>
<text font-family="Liberation Sans, sans-serif" stroke="#1a1a1a" stroke-width="0.35" font-size="18.3" fill="#1a1a1a" x="855.5" y="404.45" textLength="119.8" lengthAdjust="spacingAndGlyphs">FN5192-RNA</text>
<rect x="840.6" y="434.35" width="9.6" height="2" fill="#222"/>
<text font-family="Liberation Sans, sans-serif" stroke="#1a1a1a" stroke-width="0.35" font-size="18.3" fill="#1a1a1a" x="855.5" y="442.35" textLength="72.9" lengthAdjust="spacingAndGlyphs">FN5420</text>
<rect x="840.6" y="473.15" width="9.6" height="2" fill="#222"/>
<text font-family="Liberation Sans, sans-serif" stroke="#1a1a1a" stroke-width="0.35" font-size="18.3" fill="#1a1a1a" x="855.5" y="481.15" textLength="119.8" lengthAdjust="spacingAndGlyphs">FN5240-RNA</text>
<rect x="840.6" y="511.50" width="9.6" height="2" fill="#222"/>
<text font-family="Liberation Sans, sans-serif" stroke="#1a1a1a" stroke-width="0.35" font-size="18.3" fill="#1a1a1a" x="855.5" y="519.50" textLength="72.9" lengthAdjust="spacingAndGlyphs">FN5685</text>
<rect x="840.6" y="549.10" width="9.6" height="2" fill="#222"/>
<text font-family="Liberation Sans, sans-serif" stroke="#1a1a1a" stroke-width="0.35" font-size="18.3" fill="#1a1a1a" x="855.5" y="557.10" textLength="119.8" lengthAdjust="spacingAndGlyphs">FN5685-RNA</text>
<rect x="840.6" y="587.46" width="9.6" height="2" fill="#222"/>
<text font-family="Liberation Sans, sans-serif" stroke="#1a1a1a" stroke-width="0.35" font-size="18.3" fill="#1a1a1a" x="855.5" y="595.46" textLength="72.9" lengthAdjust="spacingAndGlyphs">FN5689</text>
<rect x="840.6" y="626.19" width="9.6" height="2" fill="#222"/>
<text font-family="Liberation Sans, sans-serif" stroke="#1a1a1a" stroke-width="0.35" font-size="18.3" fill="#1a1a1a" x="855.5" y="634.19" textLength="119.8" lengthAdjust="spacingAndGlyphs">FN5689-RNA</text>
<rect x="840.6" y="664.91" width="9.6" height="2" fill="#222"/>
<text font-family="Liberation Sans, sans-serif" stroke="#1a1a1a" stroke-width="0.35" font-size="18.3" fill="#1a1a1a" x="855.5" y="672.91" textLength="72.9" lengthAdjust="spacingAndGlyphs">FN5760</text>
<rect x="840.6" y="703.64" width="9.6" height="2" fill="#222"/>
<text font-family="Liberation Sans, sans-serif" stroke="#1a1a1a" stroke-width="0.35" font-size="18.3" fill="#1a1a1a" x="855.5" y="711.64" textLength="119.8" lengthAdjust="spacingAndGlyphs">FN5760-RNA</text>
<rect x="840.6" y="742.01" width="9.6" height="2" fill="#222"/>
<text font-family="Liberation Sans, sans-serif" stroke="#1a1a1a" stroke-width="0.35" font-size="18.3" fill="#1a1a1a" x="855.5" y="750.01" textLength="108.6" lengthAdjust="spacingAndGlyphs">China_N-PC</text>
<rect x="840.6" y="780.02" width="9.6" height="2" fill="#222"/>
<text font-family="Liberation Sans, sans-serif" stroke="#1a1a1a" stroke-width="0.35" font-size="18.3" fill="#1a1a1a" x="855.5" y="788.02" textLength="155.5" lengthAdjust="spacingAndGlyphs">China_N-PC-RNA</text>
<rect x="840.6" y="818.04" width="9.6" height="2" fill="#222"/>
<text font-family="Liberation Sans, sans-serif" stroke="#1a1a1a" stroke-width="0.35" font-size="18.3" fill="#1a1a1a" x="855.5" y="826.04" textLength="72.9" lengthAdjust="spacingAndGlyphs">FN4223</text>
<rect x="840.6" y="856.06" width="9.6" height="2" fill="#222"/>
<text font-family="Liberation Sans, sans-serif" stroke="#1a1a1a" stroke-width="0.35" font-size="18.3" fill="#1a1a1a" x="855.5" y="864.06" textLength="119.8" lengthAdjust="spacingAndGlyphs">FN4223-RNA</text>
<rect x="840.6" y="894.08" width="9.6" height="2" fill="#222"/>
<text font-family="Liberation Sans, sans-serif" stroke="#1a1a1a" stroke-width="0.35" font-size="18.3" fill="#1a1a1a" x="855.5" y="902.08" textLength="72.9" lengthAdjust="spacingAndGlyphs">FN4820</text>
<rect x="840.6" y="932.09" width="9.6" height="2" fill="#222"/>
<text font-family="Liberation Sans, sans-serif" stroke="#1a1a1a" stroke-width="0.35" font-size="18.3" fill="#1a1a1a" x="855.5" y="940.09" textLength="119.8" lengthAdjust="spacingAndGlyphs">FN4820-RNA</text>
<rect x="840.6" y="970.65" width="9.6" height="2" fill="#222"/>
<text font-family="Liberation Sans, sans-serif" stroke="#1a1a1a" stroke-width="0.35" font-size="18.3" fill="#1a1a1a" x="855.5" y="978.65" textLength="72.9" lengthAdjust="spacingAndGlyphs">FN4837</text>
<rect x="840.6" y="1009.75" width="9.6" height="2" fill="#222"/>
<text font-family="Liberation Sans, sans-serif" stroke="#1a1a1a" stroke-width="0.35" font-size="18.3" fill="#1a1a1a" x="855.5" y="1017.75" textLength="119.8" lengthAdjust="spacingAndGlyphs">FN4837-RNA</text>
<rect x="840.6" y="1047.00" width="9.6" height="2" fill="#222"/>
<text font-family="Liberation Sans, sans-serif" stroke="#1a1a1a" stroke-width="0.35" font-size="18.3" fill="#1a1a1a" x="855.5" y="1055.00" textLength="72.9" lengthAdjust="spacingAndGlyphs">FN5240</text>
<rect x="840.6" y="1081.20" width="9.6" height="2" fill="#222"/>
<text font-family="Liberation Sans, sans-serif" stroke="#1a1a1a" stroke-width="0.35" font-size="18.3" fill="#1a1a1a" x="855.5" y="1089.20" textLength="119.8" lengthAdjust="spacingAndGlyphs">FN5240-RNA</text>
<rect x="840.6" y="1116.79" width="9.6" height="2" fill="#222"/>
<text font-family="Liberation Sans, sans-serif" stroke="#1a1a1a" stroke-width="0.35" font-size="18.3" fill="#1a1a1a" x="855.5" y="1124.79" textLength="72.9" lengthAdjust="spacingAndGlyphs">FN5289</text>
<rect x="840.6" y="1154.96" width="9.6" height="2" fill="#222"/>
<text font-family="Liberation Sans, sans-serif" stroke="#1a1a1a" stroke-width="0.35" font-size="18.3" fill="#1a1a1a" x="855.5" y="1162.96" textLength="119.8" lengthAdjust="spacingAndGlyphs">FN5289-RNA</text>
<rect x="840.6" y="1193.14" width="9.6" height="2" fill="#222"/>
<text font-family="Liberation Sans, sans-serif" stroke="#1a1a1a" stroke-width="0.35" font-size="18.3" fill="#1a1a1a" x="855.5" y="1201.14" textLength="72.9" lengthAdjust="spacingAndGlyphs">FN5480</text>
<rect x="840.6" y="1231.31" width="9.6" height="2" fill="#222"/>
<text font-family="Liberation Sans, sans-serif" stroke="#1a1a1a" stroke-width="0.35" font-size="18.3" fill="#1a1a1a" x="855.5" y="1239.31" textLength="119.8" lengthAdjust="spacingAndGlyphs">FN5480-RNA</text>
<rect x="840.6" y="1269.75" width="9.6" height="2" fill="#222"/>
<text font-family="Liberation Sans, sans-serif" stroke="#1a1a1a" stroke-width="0.35" font-size="18.3" fill="#1a1a1a" x="855.5" y="1277.75" textLength="72.9" lengthAdjust="spacingAndGlyphs">FN5495</text>
<rect x="840.6" y="1308.10" width="9.6" height="2" fill="#222"/>
<text font-family="Liberation Sans, sans-serif" stroke="#1a1a1a" stroke-width="0.35" font-size="18.3" fill="#1a1a1a" x="855.5" y="1316.10" textLength="119.8" lengthAdjust="spacingAndGlyphs">FN5495-RNA</text>
<rect x="840.6" y="1346.05" width="9.6" height="2" fill="#222"/>
<text font-family="Liberation Sans, sans-serif" stroke="#1a1a1a" stroke-width="0.35" font-size="18.3" fill="#1a1a1a" x="855.5" y="1354.05" textLength="72.9" lengthAdjust="spacingAndGlyphs">FN5540</text>
<rect x="840.6" y="1384.00" width="9.6" height="2" fill="#222"/>
<text font-family="Liberation Sans, sans-serif" stroke="#1a1a1a" stroke-width="0.35" font-size="18.3" fill="#1a1a1a" x="855.5" y="1392.00" textLength="119.8" lengthAdjust="spacingAndGlyphs">FN5540-RNA</text>
<rect x="840.6" y="1422.35" width="9.6" height="2" fill="#222"/>
<text font-family="Liberation Sans, sans-serif" stroke="#1a1a1a" stroke-width="0.35" font-size="18.3" fill="#1a1a1a" x="855.5" y="1430.35" textLength="72.9" lengthAdjust="spacingAndGlyphs">FN5544</text>
<rect x="840.6" y="1460.70" width="9.6" height="2" fill="#222"/>
<text font-family="Liberation Sans, sans-serif" stroke="#1a1a1a" stroke-width="0.35" font-size="18.3" fill="#1a1a1a" x="855.5" y="1468.70" textLength="119.8" lengthAdjust="spacingAndGlyphs">FN5544-RNA</text>
<rect x="840.6" y="1498.85" width="9.6" height="2" fill="#222"/>
<text font-family="Liberation Sans, sans-serif" stroke="#1a1a1a" stroke-width="0.35" font-size="18.3" fill="#1a1a1a" x="855.5" y="1506.85" textLength="72.9" lengthAdjust="spacingAndGlyphs">FN5770</text>
<rect x="840.6" y="1537.15" width="9.6" height="2" fill="#222"/>
<text font-family="Liberation Sans, sans-serif" stroke="#1a1a1a" stroke-width="0.35" font-size="18.3" fill="#1a1a1a" x="855.5" y="1545.15" textLength="119.8" lengthAdjust="spacingAndGlyphs">FN5770-RNA</text>
<rect x="840.6" y="1575.39" width="9.6" height="2" fill="#222"/>
<text font-family="Liberation Sans, sans-serif" stroke="#1a1a1a" stroke-width="0.35" font-size="18.3" fill="#1a1a1a" x="855.5" y="1583.39" textLength="72.9" lengthAdjust="spacingAndGlyphs">FN5771</text>
<rect x="840.6" y="1613.57" width="9.6" height="2" fill="#222"/>
<text font-family="Liberation Sans, sans-serif" stroke="#1a1a1a" stroke-width="0.35" font-size="18.3" fill="#1a1a1a" x="855.5" y="1621.57" textLength="119.8" lengthAdjust="spacingAndGlyphs">FN5771-RNA</text>
<rect x="840.6" y="1651.75" width="9.6" height="2" fill="#222"/>
<text font-family="Liberation Sans, sans-serif" stroke="#1a1a1a" stroke-width="0.35" font-size="18.3" fill="#1a1a1a" x="855.5" y="1659.75" textLength="72.9" lengthAdjust="spacingAndGlyphs">FN5776</text>
<rect x="840.6" y="1689.93" width="9.6" height="2" fill="#222"/>
<text font-family="Liberation Sans, sans-serif" stroke="#1a1a1a" stroke-width="0.35" font-size="18.3" fill="#1a1a1a" x="855.5" y="1697.93" textLength="119.8" lengthAdjust="spacingAndGlyphs">FN5776-RNA</text>
<rect x="840.6" y="1728.10" width="9.6" height="2" fill="#222"/>
<text font-family="Liberation Sans, sans-serif" stroke="#1a1a1a" stroke-width="0.35" font-size="18.3" fill="#1a1a1a" x="855.5" y="1736.10" textLength="72.9" lengthAdjust="spacingAndGlyphs">FN5780</text>
<rect x="840.6" y="1766.28" width="9.6" height="2" fill="#222"/>
<text font-family="Liberation Sans, sans-serif" stroke="#1a1a1a" stroke-width="0.35" font-size="18.3" fill="#1a1a1a" x="855.5" y="1774.28" textLength="119.8" lengthAdjust="spacingAndGlyphs">FN5780-RNA</text>
<rect x="840.6" y="1804.46" width="9.6" height="2" fill="#222"/>
<text font-family="Liberation Sans, sans-serif" stroke="#1a1a1a" stroke-width="0.35" font-size="18.3" fill="#1a1a1a" x="855.5" y="1812.46" textLength="72.9" lengthAdjust="spacingAndGlyphs">FN5990</text>
<rect x="840.6" y="1842.64" width="9.6" height="2" fill="#222"/>
<text font-family="Liberation Sans, sans-serif" stroke="#1a1a1a" stroke-width="0.35" font-size="18.3" fill="#1a1a1a" x="855.5" y="1850.64" textLength="119.8" lengthAdjust="spacingAndGlyphs">FN5990-RNA</text>
<rect x="840.6" y="1880.82" width="9.6" height="2" fill="#222"/>
<text font-family="Liberation Sans, sans-serif" stroke="#1a1a1a" stroke-width="0.35" font-size="18.3" fill="#1a1a1a" x="855.5" y="1888.82" textLength="72.9" lengthAdjust="spacingAndGlyphs">FN5993</text>
<rect x="840.6" y="1919.00" width="9.6" height="2" fill="#222"/>
<text font-family="Liberation Sans, sans-serif" stroke="#1a1a1a" stroke-width="0.35" font-size="18.3" fill="#1a1a1a" x="855.5" y="1927.00" textLength="119.8" lengthAdjust="spacingAndGlyphs">FN5993-RNA</text>
<rect x="840.6" y="1957.18" width="9.6" height="2" fill="#222"/>
<text font-family="Liberation Sans, sans-serif" stroke="#1a1a1a" stroke-width="0.35" font-size="18.3" fill="#1a1a1a" x="855.5" y="1965.18" textLength="72.9" lengthAdjust="spacingAndGlyphs">FN6003</text>
<rect x="840.6" y="1995.35" width="9.6" height="2" fill="#222"/>
<text font-family="Liberation Sans, sans-serif" stroke="#1a1a1a" stroke-width="0.35" font-size="18.3" fill="#1a1a1a" x="855.5" y="2003.35" textLength="119.8" lengthAdjust="spacingAndGlyphs">FN6003-RNA</text>
<rect x="840.6" y="2033.53" width="9.6" height="2" fill="#222"/>
<text font-family="Liberation Sans, sans-serif" stroke="#1a1a1a" stroke-width="0.35" font-size="18.3" fill="#1a1a1a" x="855.5" y="2041.53" textLength="72.9" lengthAdjust="spacingAndGlyphs">FN6004</text>
<rect x="840.6" y="2071.71" width="9.6" height="2" fill="#222"/>
<text font-family="Liberation Sans, sans-serif" stroke="#1a1a1a" stroke-width="0.35" font-size="18.3" fill="#1a1a1a" x="855.5" y="2079.71" textLength="119.8" lengthAdjust="spacingAndGlyphs">FN6004-RNA</text>
<text font-family="Liberation Sans, sans-serif" stroke="#1a1a1a" stroke-width="0.35" font-size="21.2" fill="#1a1a1a" transform="translate(1033.6,1138) rotate(-90)" text-anchor="middle" textLength="121.8" lengthAdjust="spacingAndGlyphs">Template ID</text>
<path d="M252.2 192.2 L231 193.9 Q225.1 194.4 225.1 199 L225.1 713 Q225.1 717.2 230 717.3 L252.2 718.4" stroke="#000" stroke-width="5" fill="none" stroke-linecap="round" stroke-linejoin="round"/>
<path d="M149 455.0 H225" stroke="#000" stroke-width="5" fill="none"/>
<path d="M252.2 730.6 L231 731.6 Q225.1 732 225.1 737 L225.1 2094.5 Q225.1 2099.2 230 2099.3 L252.2 2099.7" stroke="#000" stroke-width="5" fill="none" stroke-linecap="round" stroke-linejoin="round"/>
<path d="M149 1414.3 H225" stroke="#000" stroke-width="5" fill="none"/>
<text font-family="Liberation Sans, sans-serif" font-weight="bold" font-size="37.2" fill="#000" x="12.2" y="464.8" textLength="122.3" lengthAdjust="spacingAndGlyphs">Young S</text>
<text font-family="Liberation Sans, sans-serif" font-weight="bold" font-size="37.5" fill="#000" x="19" y="1425.7" textLength="111.5" lengthAdjust="spacingAndGlyphs">China N</text>
<defs><linearGradient id="g1" x1="0" y1="0" x2="0" y2="1"><stop offset="0.000" stop-color="#006837"/><stop offset="0.025" stop-color="#06733d"/><stop offset="0.050" stop-color="#0c7f43"/><stop offset="0.075" stop-color="#138c4a"/><stop offset="0.100" stop-color="#199750"/><stop offset="0.125" stop-color="#2aa054"/><stop offset="0.150" stop-color="#3faa59"/><stop offset="0.175" stop-color="#51b35e"/><stop offset="0.200" stop-color="#66bd63"/><stop offset="0.225" stop-color="#75c465"/><stop offset="0.250" stop-color="#84ca66"/><stop offset="0.275" stop-color="#96d268"/><stop offset="0.300" stop-color="#a5d86a"/><stop offset="0.325" stop-color="#b3df72"/><stop offset="0.350" stop-color="#bfe47a"/><stop offset="0.375" stop-color="#cbe982"/><stop offset="0.400" stop-color="#d9ef8b"/><stop offset="0.425" stop-color="#e2f397"/><stop offset="0.450" stop-color="#ecf7a6"/><stop offset="0.475" stop-color="#f5fbb2"/><stop offset="0.500" stop-color="#feffbe"/><stop offset="0.525" stop-color="#fff7b2"/><stop offset="0.550" stop-color="#fff0a6"/><stop offset="0.575" stop-color="#fee797"/><stop offset="0.600" stop-color="#fee08b"/><stop offset="0.625" stop-color="#fed481"/><stop offset="0.650" stop-color="#fdc776"/><stop offset="0.675" stop-color="#fdbb6c"/><stop offset="0.700" stop-color="#fdad60"/><stop offset="0.725" stop-color="#fb9d59"/><stop offset="0.750" stop-color="#f98e52"/><stop offset="0.775" stop-color="#f67c4a"/><stop offset="0.800" stop-color="#f46d43"/><stop offset="0.825" stop-color="#ec5c3b"/><stop offset="0.850" stop-color="#e54e35"/><stop offset="0.875" stop-color="#de402e"/><stop offset="0.900" stop-color="#d62f27"/><stop offset="0.925" stop-color="#ca2427"/><stop offset="0.950" stop-color="#bd1726"/><stop offset="0.975" stop-color="#b10b26"/><stop offset="1.000" stop-color="#a50026"/></linearGradient></defs>
<rect x="1123.3" y="1623.5" width="20.0" height="383.5" fill="url(#g1)" stroke="#111" stroke-width="1.6"/>
<defs><linearGradient id="g2" x1="0" y1="0" x2="0" y2="1"><stop offset="0.000" stop-color="#b40426"/><stop offset="0.025" stop-color="#bd1f2d"/><stop offset="0.050" stop-color="#c53334"/><stop offset="0.075" stop-color="#cf453c"/><stop offset="0.100" stop-color="#d65244"/><stop offset="0.125" stop-color="#dd5f4b"/><stop offset="0.150" stop-color="#e36c55"/><stop offset="0.175" stop-color="#e9785d"/><stop offset="0.200" stop-color="#ee8468"/><stop offset="0.225" stop-color="#f18f71"/><stop offset="0.250" stop-color="#f4987a"/><stop offset="0.275" stop-color="#f6a385"/><stop offset="0.300" stop-color="#f7ac8e"/><stop offset="0.325" stop-color="#f7b599"/><stop offset="0.350" stop-color="#f6bda2"/><stop offset="0.375" stop-color="#f5c4ac"/><stop offset="0.400" stop-color="#f2cbb7"/><stop offset="0.425" stop-color="#eed0c0"/><stop offset="0.450" stop-color="#e9d5cb"/><stop offset="0.475" stop-color="#e3d9d3"/><stop offset="0.500" stop-color="#dddcdc"/><stop offset="0.525" stop-color="#d6dce4"/><stop offset="0.550" stop-color="#cfdaea"/><stop offset="0.575" stop-color="#c7d7f0"/><stop offset="0.600" stop-color="#c0d4f5"/><stop offset="0.625" stop-color="#b9d0f9"/><stop offset="0.650" stop-color="#afcafc"/><stop offset="0.675" stop-color="#a7c5fe"/><stop offset="0.700" stop-color="#9ebeff"/><stop offset="0.725" stop-color="#96b7ff"/><stop offset="0.750" stop-color="#8db0fe"/><stop offset="0.775" stop-color="#84a7fc"/><stop offset="0.800" stop-color="#7b9ff9"/><stop offset="0.825" stop-color="#7295f4"/><stop offset="0.850" stop-color="#6a8bef"/><stop offset="0.875" stop-color="#6282ea"/><stop offset="0.900" stop-color="#5977e3"/><stop offset="0.925" stop-color="#516ddb"/><stop offset="0.950" stop-color="#4961d2"/><stop offset="0.975" stop-color="#4257c9"/><stop offset="1.000" stop-color="#3b4cc0"/></linearGradient></defs>
<rect x="1251.2" y="1623.5" width="20.0" height="383.5" fill="url(#g2)" stroke="#111" stroke-width="1.6"/>
<defs><linearGradient id="g3" x1="0" y1="0" x2="0" y2="1"><stop offset="0.000" stop-color="#49006a"/><stop offset="0.025" stop-color="#52006c"/><stop offset="0.050" stop-color="#5b006f"/><stop offset="0.075" stop-color="#660172"/><stop offset="0.100" stop-color="#6f0174"/><stop offset="0.125" stop-color="#790177"/><stop offset="0.150" stop-color="#840178"/><stop offset="0.175" stop-color="#8e017a"/><stop offset="0.200" stop-color="#99017b"/><stop offset="0.225" stop-color="#a3017d"/><stop offset="0.250" stop-color="#ad017e"/><stop offset="0.275" stop-color="#b70b83"/><stop offset="0.300" stop-color="#c01588"/><stop offset="0.325" stop-color="#ca208d"/><stop offset="0.350" stop-color="#d32992"/><stop offset="0.375" stop-color="#dc3397"/><stop offset="0.400" stop-color="#e23e99"/><stop offset="0.425" stop-color="#e7489b"/><stop offset="0.450" stop-color="#ed549d"/><stop offset="0.475" stop-color="#f25d9f"/><stop offset="0.500" stop-color="#f767a1"/><stop offset="0.525" stop-color="#f873a5"/><stop offset="0.550" stop-color="#f87ea9"/><stop offset="0.575" stop-color="#f98aad"/><stop offset="0.600" stop-color="#f994b1"/><stop offset="0.625" stop-color="#fa9eb5"/><stop offset="0.650" stop-color="#faa7b7"/><stop offset="0.675" stop-color="#fbaeb9"/><stop offset="0.700" stop-color="#fbb6bc"/><stop offset="0.725" stop-color="#fcbebe"/><stop offset="0.750" stop-color="#fcc5c0"/><stop offset="0.775" stop-color="#fccbc6"/><stop offset="0.800" stop-color="#fcd0cc"/><stop offset="0.825" stop-color="#fdd6d2"/><stop offset="0.850" stop-color="#fddbd7"/><stop offset="0.875" stop-color="#fde0dd"/><stop offset="0.900" stop-color="#fde5e2"/><stop offset="0.925" stop-color="#fee9e6"/><stop offset="0.950" stop-color="#feeeeb"/><stop offset="0.975" stop-color="#fff3ef"/><stop offset="1.000" stop-color="#fff7f3"/></linearGradient></defs>
<rect x="1378.2" y="1623.5" width="20.200000000000045" height="383.5" fill="url(#g3)" stroke="#111" stroke-width="1.6"/>
<rect x="1113.3" y="1623.00" width="10" height="2" fill="#222"/>
<text font-family="Liberation Sans, sans-serif" stroke="#1a1a1a" stroke-width="0.35" font-size="22.3" fill="#1a1a1a" x="1104.1" y="1633.00" text-anchor="end" textLength="12.4" lengthAdjust="spacingAndGlyphs">0</text>
<rect x="1113.3" y="1667.70" width="10" height="2" fill="#222"/>
<text font-family="Liberation Sans, sans-serif" stroke="#1a1a1a" stroke-width="0.35" font-size="22.3" fill="#1a1a1a" x="1104.1" y="1677.70" text-anchor="end" textLength="28.8" lengthAdjust="spacingAndGlyphs">−5</text>
<rect x="1113.3" y="1712.40" width="10" height="2" fill="#222"/>
<text font-family="Liberation Sans, sans-serif" stroke="#1a1a1a" stroke-width="0.35" font-size="22.3" fill="#1a1a1a" x="1104.1" y="1722.40" text-anchor="end" textLength="41.2" lengthAdjust="spacingAndGlyphs">−10</text>
<rect x="1113.3" y="1757.10" width="10" height="2" fill="#222"/>
<text font-family="Liberation Sans, sans-serif" stroke="#1a1a1a" stroke-width="0.35" font-size="22.3" fill="#1a1a1a" x="1104.1" y="1767.10" text-anchor="end" textLength="41.2" lengthAdjust="spacingAndGlyphs">−15</text>
<rect x="1113.3" y="1801.80" width="10" height="2" fill="#222"/>
<text font-family="Liberation Sans, sans-serif" stroke="#1a1a1a" stroke-width="0.35" font-size="22.3" fill="#1a1a1a" x="1104.1" y="1811.80" text-anchor="end" textLength="41.2" lengthAdjust="spacingAndGlyphs">−20</text>
<rect x="1113.3" y="1846.50" width="10" height="2" fill="#222"/>
<text font-family="Liberation Sans, sans-serif" stroke="#1a1a1a" stroke-width="0.35" font-size="22.3" fill="#1a1a1a" x="1104.1" y="1856.50" text-anchor="end" textLength="41.2" lengthAdjust="spacingAndGlyphs">−25</text>
<rect x="1113.3" y="1891.20" width="10" height="2" fill="#222"/>
<text font-family="Liberation Sans, sans-serif" stroke="#1a1a1a" stroke-width="0.35" font-size="22.3" fill="#1a1a1a" x="1104.1" y="1901.20" text-anchor="end" textLength="41.2" lengthAdjust="spacingAndGlyphs">−30</text>
<rect x="1113.3" y="1935.90" width="10" height="2" fill="#222"/>
<text font-family="Liberation Sans, sans-serif" stroke="#1a1a1a" stroke-width="0.35" font-size="22.3" fill="#1a1a1a" x="1104.1" y="1945.90" text-anchor="end" textLength="41.2" lengthAdjust="spacingAndGlyphs">−35</text>
<rect x="1113.3" y="1980.60" width="10" height="2" fill="#222"/>
<text font-family="Liberation Sans, sans-serif" stroke="#1a1a1a" stroke-width="0.35" font-size="22.3" fill="#1a1a1a" x="1104.1" y="1990.60" text-anchor="end" textLength="41.2" lengthAdjust="spacingAndGlyphs">−40</text>
<rect x="1241.2" y="1949.60" width="10" height="2" fill="#222"/>
<text font-family="Liberation Sans, sans-serif" stroke="#1a1a1a" stroke-width="0.35" font-size="22.3" fill="#1a1a1a" x="1232.0" y="1959.60" text-anchor="end" textLength="24.8" lengthAdjust="spacingAndGlyphs">25</text>
<rect x="1241.2" y="1878.90" width="10" height="2" fill="#222"/>
<text font-family="Liberation Sans, sans-serif" stroke="#1a1a1a" stroke-width="0.35" font-size="22.3" fill="#1a1a1a" x="1232.0" y="1888.90" text-anchor="end" textLength="24.8" lengthAdjust="spacingAndGlyphs">30</text>
<rect x="1241.2" y="1808.20" width="10" height="2" fill="#222"/>
<text font-family="Liberation Sans, sans-serif" stroke="#1a1a1a" stroke-width="0.35" font-size="22.3" fill="#1a1a1a" x="1232.0" y="1818.20" text-anchor="end" textLength="24.8" lengthAdjust="spacingAndGlyphs">35</text>
<rect x="1241.2" y="1737.50" width="10" height="2" fill="#222"/>
<text font-family="Liberation Sans, sans-serif" stroke="#1a1a1a" stroke-width="0.35" font-size="22.3" fill="#1a1a1a" x="1232.0" y="1747.50" text-anchor="end" textLength="24.8" lengthAdjust="spacingAndGlyphs">40</text>
<rect x="1241.2" y="1666.80" width="10" height="2" fill="#222"/>
<text font-family="Liberation Sans, sans-serif" stroke="#1a1a1a" stroke-width="0.35" font-size="22.3" fill="#1a1a1a" x="1232.0" y="1676.80" text-anchor="end" textLength="24.8" lengthAdjust="spacingAndGlyphs">45</text>
<rect x="1368.2" y="1964.80" width="10" height="2" fill="#222"/>
<text font-family="Liberation Sans, sans-serif" stroke="#1a1a1a" stroke-width="0.35" font-size="22.3" fill="#1a1a1a" x="1359.0" y="1974.80" text-anchor="end" textLength="43.4" lengthAdjust="spacingAndGlyphs">0.70</text>
<rect x="1368.2" y="1896.60" width="10" height="2" fill="#222"/>
<text font-family="Liberation Sans, sans-serif" stroke="#1a1a1a" stroke-width="0.35" font-size="22.3" fill="#1a1a1a" x="1359.0" y="1906.60" text-anchor="end" textLength="43.4" lengthAdjust="spacingAndGlyphs">0.75</text>
<rect x="1368.2" y="1828.40" width="10" height="2" fill="#222"/>
<text font-family="Liberation Sans, sans-serif" stroke="#1a1a1a" stroke-width="0.35" font-size="22.3" fill="#1a1a1a" x="1359.0" y="1838.40" text-anchor="end" textLength="43.4" lengthAdjust="spacingAndGlyphs">0.80</text>
<rect x="1368.2" y="1760.20" width="10" height="2" fill="#222"/>
<text font-family="Liberation Sans, sans-serif" stroke="#1a1a1a" stroke-width="0.35" font-size="22.3" fill="#1a1a1a" x="1359.0" y="1770.20" text-anchor="end" textLength="43.4" lengthAdjust="spacingAndGlyphs">0.85</text>
<rect x="1368.2" y="1692.00" width="10" height="2" fill="#222"/>
<text font-family="Liberation Sans, sans-serif" stroke="#1a1a1a" stroke-width="0.35" font-size="22.3" fill="#1a1a1a" x="1359.0" y="1702.00" text-anchor="end" textLength="43.4" lengthAdjust="spacingAndGlyphs">0.90</text>
<rect x="1368.2" y="1623.80" width="10" height="2" fill="#222"/>
<text font-family="Liberation Sans, sans-serif" stroke="#1a1a1a" stroke-width="0.35" font-size="22.3" fill="#1a1a1a" x="1359.0" y="1633.80" text-anchor="end" textLength="43.4" lengthAdjust="spacingAndGlyphs">0.95</text>
<text font-family="Liberation Sans, sans-serif" stroke="#1a1a1a" stroke-width="0.35" font-size="25.5" fill="#1a1a1a" transform="translate(1135.0,1594.2) rotate(-90)" x="0" y="0" textLength="92.5" lengthAdjust="spacingAndGlyphs">tm_delta</text>
<text font-family="Liberation Sans, sans-serif" stroke="#1a1a1a" stroke-width="0.35" font-size="25.5" fill="#1a1a1a" transform="translate(1270.0,1600.0) rotate(-90)" x="0" y="0" textLength="312.7" lengthAdjust="spacingAndGlyphs">Cycles to threshold and y-int</text>
<text font-family="Liberation Sans, sans-serif" stroke="#1a1a1a" stroke-width="0.35" font-size="25.5" fill="#1a1a1a" transform="translate(1394.7,1596.0) rotate(-90)" x="0" y="0" textLength="102.0" lengthAdjust="spacingAndGlyphs">Efficiency</text>
<text font-family="Liberation Sans, sans-serif" stroke="#1a1a1a" stroke-width="0.35" font-size="27" fill="#111" x="1171.6" y="2065.3" textLength="173.6" lengthAdjust="spacingAndGlyphs">Heat map key</text>
</svg>
</body></html>
